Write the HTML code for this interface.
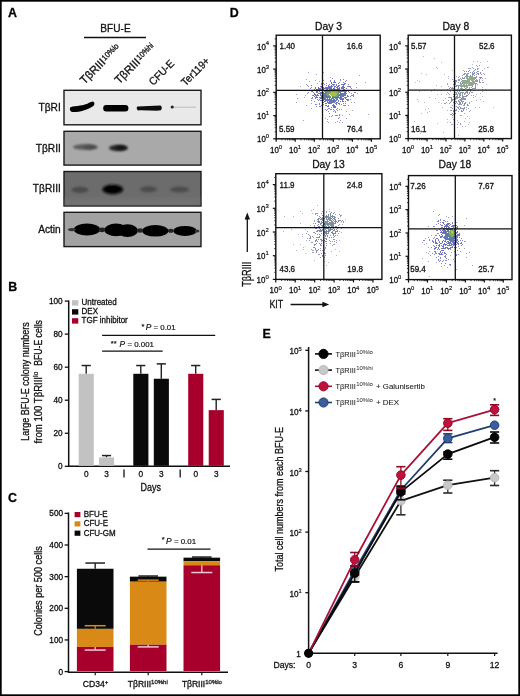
<!DOCTYPE html>
<html><head><meta charset="utf-8"><style>
html,body{margin:0;padding:0;background:#fff;}
svg{display:block;}
text{font-family:"Liberation Sans",sans-serif;stroke:#111;stroke-width:0.3px;}
svg{will-change:transform;}
</style></head><body>
<svg width="520" height="696" viewBox="0 0 520 696" font-family="Liberation Sans, sans-serif">
<rect width="520" height="696" fill="#fff"/>
<rect x="0.85" y="0.85" width="518.3" height="694.3" fill="none" stroke="#000" stroke-width="1.7"/>
<text x="8.1" y="16.8" font-size="12.4" text-anchor="start" font-weight="bold" fill="#000" >A</text>
<text x="8.3" y="290.9" font-size="12.4" text-anchor="start" font-weight="bold" fill="#000" >B</text>
<text x="8.0" y="501.6" font-size="12.4" text-anchor="start" font-weight="bold" fill="#000" >C</text>
<text x="229.8" y="16.8" font-size="12.4" text-anchor="start" font-weight="bold" fill="#000" >D</text>
<text x="262.5" y="337.5" font-size="12.4" text-anchor="start" font-weight="bold" fill="#000" >E</text>
<text x="115.5" y="31.7" font-size="10.1" text-anchor="middle" font-weight="normal" fill="#111" >BFU-E</text>
<line x1="84" y1="37.5" x2="146" y2="37.5" stroke="#111" stroke-width="1.5" />
<text transform="translate(84.6,84.8) rotate(-45)" font-size="11.4" fill="#111" textLength="30.60" lengthAdjust="spacingAndGlyphs">TβRIII</text>
<text transform="translate(84.6,84.8) rotate(-45)" x="31.20" y="-2.6" font-size="8.0" fill="#111" textLength="20.40" lengthAdjust="spacingAndGlyphs">10%lo</text>
<text transform="translate(119.3,84.5) rotate(-45)" font-size="11.4" fill="#111" textLength="30.60" lengthAdjust="spacingAndGlyphs">TβRIII</text>
<text transform="translate(119.3,84.5) rotate(-45)" x="31.20" y="-2.6" font-size="8.0" fill="#111" textLength="20.40" lengthAdjust="spacingAndGlyphs">10%hi</text>
<text transform="translate(153.3,86.0) rotate(-45)" font-size="10.8" fill="#111" textLength="30.60" lengthAdjust="spacingAndGlyphs">CFU-E</text>
<text transform="translate(185.6,86.4) rotate(-45)" font-size="10.8" fill="#111" textLength="35.00" lengthAdjust="spacingAndGlyphs">Ter119+</text>
<defs><filter id="bl" x="-50%" y="-50%" width="200%" height="200%"><feGaussianBlur stdDeviation="1.2"/></filter><filter id="bl2" x="-50%" y="-50%" width="200%" height="200%"><feGaussianBlur stdDeviation="2"/></filter><filter id="bl05" x="-50%" y="-50%" width="200%" height="200%"><feGaussianBlur stdDeviation="0.6"/></filter><filter id="bl07" x="-20%" y="-50%" width="140%" height="200%"><feGaussianBlur stdDeviation="0.75"/></filter><clipPath id="c1"><rect x="64" y="90.3" width="137" height="34.5"/></clipPath><clipPath id="c2"><rect x="64" y="131.3" width="137" height="33.8"/></clipPath><clipPath id="c3"><rect x="64" y="171.5" width="137" height="34.5"/></clipPath><clipPath id="c4"><rect x="64" y="212.3" width="137" height="34.7"/></clipPath></defs>
<rect x="64" y="90.3" width="137" height="34.5" fill="#e9e9e9" stroke="#1a1a1a" stroke-width="1.4"/>
<text x="60.8" y="111.25" font-size="10.2" text-anchor="end" font-weight="normal" fill="#111" >TβRI</text>
<rect x="64" y="131.3" width="137" height="33.79999999999998" fill="#a9a9a9" stroke="#1a1a1a" stroke-width="1.4"/>
<text x="60.8" y="151.89999999999998" font-size="10.2" text-anchor="end" font-weight="normal" fill="#111" >TβRII</text>
<rect x="64" y="171.5" width="137" height="34.5" fill="#6c6c6c" stroke="#1a1a1a" stroke-width="1.4"/>
<text x="60.8" y="192.45" font-size="10.2" text-anchor="end" font-weight="normal" fill="#111" >TβRIII</text>
<rect x="64" y="212.3" width="137" height="34.29999999999998" fill="#a2a2a2" stroke="#1a1a1a" stroke-width="1.4"/>
<text x="60.8" y="233.14999999999998" font-size="10.2" text-anchor="end" font-weight="normal" fill="#111" >Actin</text>
<g clip-path="url(#c1)"><g filter="url(#bl07)">
<path d="M70.5,107.2 C76,105.6 84,106.3 89.5,102.6 L92.5,101.4 C95.2,101.8 95,105.2 92.5,106.4 C87,109.6 80,112.2 72.5,112.0 C69.6,111.6 69.4,108.2 70.5,107.2 Z" fill="#060606"/>
<rect x="103.2" y="105.0" width="25.2" height="6.4" rx="3" fill="#060606"/>
<path d="M137.4,106.6 C145,106.0 153,106.2 160,105.6 C162.4,105.8 162.4,110.2 160,110.6 C153,110.8 145,110.2 138,110.4 C136.4,109.6 136.4,107.2 137.4,106.6 Z" fill="#101010"/>
<circle cx="172.2" cy="107.0" r="1.6" fill="#222"/>
<rect x="174" y="106.6" width="22" height="1.2" fill="#c4c4c4"/>
</g></g>
<ellipse cx="85.5" cy="147.0" rx="12.5" ry="3.0" fill="#555" opacity="0.9" filter="url(#bl)" clip-path="url(#c2)" transform="rotate(0 85.5 147.0)"/>
<ellipse cx="90" cy="147.2" rx="6" ry="2.2" fill="#444" opacity="0.7" filter="url(#bl)" clip-path="url(#c2)" transform="rotate(0 90 147.2)"/>
<ellipse cx="118.5" cy="148" rx="9.5" ry="3.2" fill="#222" opacity="0.95" filter="url(#bl)" clip-path="url(#c2)" transform="rotate(0 118.5 148)"/>
<ellipse cx="121" cy="147.6" rx="5" ry="2.2" fill="#111" opacity="0.8" filter="url(#bl)" clip-path="url(#c2)" transform="rotate(0 121 147.6)"/>
<rect x="64" y="198" width="137" height="8" fill="#7a7a7a" opacity="0.5" filter="url(#bl2)" clip-path="url(#c3)"/>
<ellipse cx="80" cy="189.8" rx="8.5" ry="3.0" fill="#474747" opacity="0.9" filter="url(#bl)" clip-path="url(#c3)" transform="rotate(0 80 189.8)"/>
<ellipse cx="112.8" cy="189.4" rx="10.5" ry="5.0" fill="#111" opacity="1" filter="url(#bl)" clip-path="url(#c3)" transform="rotate(0 112.8 189.4)"/>
<ellipse cx="112.5" cy="189.2" rx="7.5" ry="3.2" fill="#000" opacity="1" filter="url(#bl05)" clip-path="url(#c3)" transform="rotate(0 112.5 189.2)"/>
<ellipse cx="148.5" cy="189.3" rx="8.5" ry="3.0" fill="#4a4a4a" opacity="0.9" filter="url(#bl)" clip-path="url(#c3)" transform="rotate(0 148.5 189.3)"/>
<ellipse cx="179.5" cy="189.5" rx="9.5" ry="3.0" fill="#4a4a4a" opacity="0.9" filter="url(#bl)" clip-path="url(#c3)" transform="rotate(0 179.5 189.5)"/>
<g clip-path="url(#c4)"><g filter="url(#bl07)">
<ellipse cx="87.0" cy="229.4" rx="13.2" ry="6.0" fill="#000"/>
<ellipse cx="116.0" cy="229.9" rx="11.5" ry="6.3" fill="#000"/>
<ellipse cx="127.5" cy="230.6" rx="10.5" ry="6.3" fill="#000"/>
<ellipse cx="155.3" cy="230.8" rx="13.2" ry="5.8" fill="#000"/>
<ellipse cx="185.0" cy="230.9" rx="11.6" ry="5.0" fill="#000"/>
<ellipse cx="72" cy="229.6" rx="4" ry="1.6" fill="#333"/>
<ellipse cx="102.0" cy="229.8" rx="3.5" ry="2.4" fill="#222"/>
<ellipse cx="140.0" cy="230.5" rx="3" ry="2.2" fill="#222"/>
<ellipse cx="170.8" cy="230.8" rx="3" ry="2.0" fill="#222"/>
<ellipse cx="197" cy="231" rx="2.5" ry="1.5" fill="#333"/>
</g></g>
<line x1="68.7" y1="300.5" x2="68.7" y2="466.3" stroke="#111" stroke-width="1.5" />
<line x1="68.0" y1="466.3" x2="230" y2="466.3" stroke="#111" stroke-width="1.5" />
<line x1="64.8" y1="466.3" x2="68.7" y2="466.3" stroke="#111" stroke-width="1.3" />
<text x="62.6" y="469.2" font-size="8.2" text-anchor="end" font-weight="normal" fill="#111" >0</text>
<line x1="64.8" y1="433.26" x2="68.7" y2="433.26" stroke="#111" stroke-width="1.3" />
<text x="62.6" y="436.15999999999997" font-size="8.2" text-anchor="end" font-weight="normal" fill="#111" >20</text>
<line x1="64.8" y1="400.22" x2="68.7" y2="400.22" stroke="#111" stroke-width="1.3" />
<text x="62.6" y="403.12" font-size="8.2" text-anchor="end" font-weight="normal" fill="#111" >40</text>
<line x1="64.8" y1="367.18" x2="68.7" y2="367.18" stroke="#111" stroke-width="1.3" />
<text x="62.6" y="370.08" font-size="8.2" text-anchor="end" font-weight="normal" fill="#111" >60</text>
<line x1="64.8" y1="334.14" x2="68.7" y2="334.14" stroke="#111" stroke-width="1.3" />
<text x="62.6" y="337.03999999999996" font-size="8.2" text-anchor="end" font-weight="normal" fill="#111" >80</text>
<line x1="64.8" y1="301.1" x2="68.7" y2="301.1" stroke="#111" stroke-width="1.3" />
<text x="62.6" y="304.0" font-size="8.2" text-anchor="end" font-weight="normal" fill="#111" >100</text>
<rect x="72" y="300.2" width="6.3" height="5.4" fill="#c2c2c2" />
<text x="81.6" y="305.1" font-size="8.5" text-anchor="start" fill="#111" textLength="35.09" lengthAdjust="spacingAndGlyphs">Untreated</text>
<rect x="72" y="309.2" width="6.3" height="5.4" fill="#0a0a0a" />
<text x="81.6" y="314.15000000000003" font-size="8.5" text-anchor="start" fill="#111" textLength="16.43" lengthAdjust="spacingAndGlyphs">DEX</text>
<rect x="72" y="318.2" width="6.3" height="5.4" fill="#a8002c" />
<text x="81.6" y="323.20000000000005" font-size="8.5" text-anchor="start" fill="#111" textLength="46.17" lengthAdjust="spacingAndGlyphs">TGF inhibitor</text>
<line x1="86.2" y1="373.788" x2="86.2" y2="365.528" stroke="#222" stroke-width="1.4" />
<line x1="81.60000000000001" y1="365.528" x2="90.8" y2="365.528" stroke="#222" stroke-width="1.5" />
<rect x="78.7" y="373.788" width="15.1" height="92.012" fill="#c2c2c2" />
<line x1="106.5" y1="457.3792" x2="106.5" y2="455.562" stroke="#222" stroke-width="1.4" />
<line x1="101.9" y1="455.562" x2="111.1" y2="455.562" stroke="#222" stroke-width="1.5" />
<rect x="99.0" y="457.3792" width="15.1" height="8.420799999999986" fill="#c2c2c2" />
<line x1="140.8" y1="373.788" x2="140.8" y2="365.528" stroke="#222" stroke-width="1.4" />
<line x1="136.20000000000002" y1="365.528" x2="145.4" y2="365.528" stroke="#222" stroke-width="1.5" />
<rect x="133.3" y="373.788" width="15.1" height="92.012" fill="#0a0a0a" />
<line x1="161.3" y1="378.744" x2="161.3" y2="363.87600000000003" stroke="#222" stroke-width="1.4" />
<line x1="156.70000000000002" y1="363.87600000000003" x2="165.9" y2="363.87600000000003" stroke="#222" stroke-width="1.5" />
<rect x="153.8" y="378.744" width="15.1" height="87.05599999999998" fill="#0a0a0a" />
<line x1="195.7" y1="373.788" x2="195.7" y2="365.528" stroke="#222" stroke-width="1.4" />
<line x1="191.1" y1="365.528" x2="200.29999999999998" y2="365.528" stroke="#222" stroke-width="1.5" />
<rect x="188.2" y="373.788" width="15.1" height="92.012" fill="#a8002c" />
<line x1="216.2" y1="410.132" x2="216.2" y2="399.394" stroke="#222" stroke-width="1.4" />
<line x1="211.6" y1="399.394" x2="220.79999999999998" y2="399.394" stroke="#222" stroke-width="1.5" />
<rect x="208.7" y="410.132" width="15.1" height="55.668000000000006" fill="#a8002c" />
<text x="86.2" y="476.8" font-size="8.7" text-anchor="middle" fill="#111" textLength="4.60" lengthAdjust="spacingAndGlyphs">0</text>
<text x="106.6" y="476.8" font-size="8.7" text-anchor="middle" fill="#111" textLength="4.60" lengthAdjust="spacingAndGlyphs">3</text>
<text x="140.9" y="476.8" font-size="8.7" text-anchor="middle" fill="#111" textLength="4.60" lengthAdjust="spacingAndGlyphs">0</text>
<text x="161.4" y="476.8" font-size="8.7" text-anchor="middle" fill="#111" textLength="4.60" lengthAdjust="spacingAndGlyphs">3</text>
<text x="195.7" y="476.8" font-size="8.7" text-anchor="middle" fill="#111" textLength="4.60" lengthAdjust="spacingAndGlyphs">0</text>
<text x="216.2" y="476.8" font-size="8.7" text-anchor="middle" fill="#111" textLength="4.60" lengthAdjust="spacingAndGlyphs">3</text>
<line x1="124.0" y1="469.6" x2="124.0" y2="477.4" stroke="#111" stroke-width="1.3" />
<line x1="180.2" y1="469.6" x2="180.2" y2="477.4" stroke="#111" stroke-width="1.3" />
<text x="150.7" y="490.7" font-size="10.4" text-anchor="middle" fill="#111" textLength="20.5" lengthAdjust="spacingAndGlyphs">Days</text>
<line x1="102.1" y1="335.3" x2="215.2" y2="335.3" stroke="#111" stroke-width="1.3" />
<line x1="102.1" y1="351.2" x2="162.7" y2="351.2" stroke="#111" stroke-width="1.3" />
<text x="141.5" y="329.0" font-size="7.4" text-anchor="start" font-weight="normal" fill="#111"  style="stroke-width:0.18px">*</text>
<text x="145.7" y="330.3" font-size="7.9" text-anchor="start" font-weight="normal" fill="#111"  style="stroke-width:0.18px"><tspan font-style="italic" font-size="8.4">P</tspan> = 0.01</text>
<text x="110.8" y="345.8" font-size="7.4" text-anchor="start" font-weight="normal" fill="#111"  style="stroke-width:0.18px">**</text>
<text x="119.6" y="347.0" font-size="7.9" text-anchor="start" font-weight="normal" fill="#111"  style="stroke-width:0.18px"><tspan font-style="italic" font-size="8.4">P</tspan> = 0.001</text>
<text transform="translate(29.1,381.5) rotate(-90)" font-size="10.5" text-anchor="middle" fill="#111" textLength="118.3" lengthAdjust="spacingAndGlyphs">Large BFU-E colony numbers</text>
<text transform="translate(41.6,410.2) rotate(-90)" font-size="10.5" text-anchor="middle" fill="#111" textLength="66.4" lengthAdjust="spacingAndGlyphs">from 100 TβRIII</text>
<text transform="translate(37.9,377.0) rotate(-90)" font-size="6.6" fill="#111" textLength="5.4" lengthAdjust="spacingAndGlyphs" style="stroke-width:0.18px">lo</text>
<text transform="translate(41.6,342.9) rotate(-90)" font-size="10.5" text-anchor="middle" fill="#111" textLength="45.6" lengthAdjust="spacingAndGlyphs">BFU-E cells</text>
<line x1="68.5" y1="512.5" x2="68.5" y2="672.3" stroke="#111" stroke-width="1.5" />
<line x1="67.8" y1="672.3" x2="228" y2="672.3" stroke="#111" stroke-width="1.5" />
<line x1="64.6" y1="671.6" x2="68.5" y2="671.6" stroke="#111" stroke-width="1.3" />
<text x="63.0" y="674.5" font-size="8.2" text-anchor="end" font-weight="normal" fill="#111" >0</text>
<line x1="64.6" y1="639.95" x2="68.5" y2="639.95" stroke="#111" stroke-width="1.3" />
<text x="63.0" y="642.85" font-size="8.2" text-anchor="end" font-weight="normal" fill="#111" >100</text>
<line x1="64.6" y1="608.3000000000001" x2="68.5" y2="608.3000000000001" stroke="#111" stroke-width="1.3" />
<text x="63.0" y="611.2" font-size="8.2" text-anchor="end" font-weight="normal" fill="#111" >200</text>
<line x1="64.6" y1="576.65" x2="68.5" y2="576.65" stroke="#111" stroke-width="1.3" />
<text x="63.0" y="579.55" font-size="8.2" text-anchor="end" font-weight="normal" fill="#111" >300</text>
<line x1="64.6" y1="545.0" x2="68.5" y2="545.0" stroke="#111" stroke-width="1.3" />
<text x="63.0" y="547.9" font-size="8.2" text-anchor="end" font-weight="normal" fill="#111" >400</text>
<line x1="64.6" y1="513.35" x2="68.5" y2="513.35" stroke="#111" stroke-width="1.3" />
<text x="63.0" y="516.25" font-size="8.2" text-anchor="end" font-weight="normal" fill="#111" >500</text>
<rect x="74.6" y="512.0" width="5.8" height="5.2" fill="#a8002c" />
<text x="83.7" y="517.0" font-size="8.5" text-anchor="start" fill="#111" textLength="23.97" lengthAdjust="spacingAndGlyphs">BFU-E</text>
<rect x="74.6" y="521.3" width="5.8" height="5.2" fill="#d98a16" />
<text x="83.7" y="526.3" font-size="8.5" text-anchor="start" fill="#111" textLength="24.41" lengthAdjust="spacingAndGlyphs">CFU-E</text>
<rect x="74.6" y="530.6" width="5.8" height="5.2" fill="#0a0a0a" />
<text x="83.7" y="535.6" font-size="8.5" text-anchor="start" fill="#111" textLength="31.95" lengthAdjust="spacingAndGlyphs">CFU-GM</text>
<line x1="95.2" y1="568.7375000000001" x2="95.2" y2="563.0405000000001" stroke="#222" stroke-width="1.4" />
<line x1="85.4" y1="563.0405000000001" x2="105.0" y2="563.0405000000001" stroke="#222" stroke-width="1.5" />
<rect x="76.9" y="568.7375000000001" width="36.6" height="60.13499999999999" fill="#0a0a0a" />
<rect x="76.9" y="628.8725000000001" width="36.6" height="18.040499999999952" fill="#d98a16" />
<rect x="76.9" y="646.913" width="36.6" height="24.08700000000001" fill="#a8002c" />
<line x1="95.2" y1="628.8725000000001" x2="95.2" y2="625.7075" stroke="#d98a16" stroke-width="1.3" />
<line x1="84.7" y1="625.7075" x2="105.7" y2="625.7075" stroke="#d98a16" stroke-width="1.5" />
<line x1="95.2" y1="646.913" x2="95.2" y2="650.078" stroke="#f0c8d0" stroke-width="1.3" />
<line x1="84.7" y1="650.078" x2="105.7" y2="650.078" stroke="#f0c8d0" stroke-width="1.5" />
<line x1="95.2" y1="672.3" x2="95.2" y2="675.2" stroke="#111" stroke-width="1.2" />
<line x1="148.20000000000002" y1="576.65" x2="148.20000000000002" y2="576.017" stroke="#222" stroke-width="1.4" />
<line x1="138.4" y1="576.017" x2="158.00000000000003" y2="576.017" stroke="#222" stroke-width="1.5" />
<rect x="129.9" y="576.65" width="36.6" height="5.064000000000078" fill="#0a0a0a" />
<rect x="129.9" y="581.714" width="36.6" height="62.983499999999935" fill="#d98a16" />
<rect x="129.9" y="644.6975" width="36.6" height="26.30250000000003" fill="#a8002c" />
<line x1="148.20000000000002" y1="581.714" x2="148.20000000000002" y2="580.1315" stroke="#d98a16" stroke-width="1.3" />
<line x1="137.70000000000002" y1="580.1315" x2="158.70000000000002" y2="580.1315" stroke="#d98a16" stroke-width="1.5" />
<line x1="148.20000000000002" y1="644.6975" x2="148.20000000000002" y2="646.913" stroke="#f0c8d0" stroke-width="1.3" />
<line x1="137.70000000000002" y1="646.913" x2="158.70000000000002" y2="646.913" stroke="#f0c8d0" stroke-width="1.5" />
<line x1="148.20000000000002" y1="672.3" x2="148.20000000000002" y2="675.2" stroke="#111" stroke-width="1.2" />
<line x1="201.8" y1="557.6600000000001" x2="201.8" y2="557.027" stroke="#222" stroke-width="1.4" />
<line x1="192.0" y1="557.027" x2="211.60000000000002" y2="557.027" stroke="#222" stroke-width="1.5" />
<rect x="183.5" y="557.6600000000001" width="36.6" height="3.4814999999999827" fill="#0a0a0a" />
<rect x="183.5" y="561.1415000000001" width="36.6" height="4.114500000000021" fill="#d98a16" />
<rect x="183.5" y="565.2560000000001" width="36.6" height="105.74399999999994" fill="#a8002c" />
<line x1="201.8" y1="565.2560000000001" x2="201.8" y2="572.5355000000001" stroke="#f0c8d0" stroke-width="1.3" />
<line x1="191.3" y1="572.5355000000001" x2="212.3" y2="572.5355000000001" stroke="#f0c8d0" stroke-width="1.5" />
<line x1="201.8" y1="672.3" x2="201.8" y2="675.2" stroke="#111" stroke-width="1.2" />
<text x="95.5" y="686.6" font-size="8.6" text-anchor="middle" font-weight="normal" fill="#111" >CD34<tspan dy="-2.6" font-size="6">+</tspan></text>
<text x="147.8" y="687.0" font-size="8.5" text-anchor="middle" font-weight="normal" fill="#111" >TβRIII<tspan dy="-3.4" font-size="6.0" fill="#333">10%hi</tspan></text>
<text x="201.9" y="687.0" font-size="8.5" text-anchor="middle" font-weight="normal" fill="#111" >TβRIII<tspan dy="-3.4" font-size="6.0" fill="#333">10%lo</tspan></text>
<line x1="147.5" y1="549.2" x2="210.5" y2="549.2" stroke="#111" stroke-width="1.3" />
<text x="161.8" y="542.2" font-size="7.4" text-anchor="start" font-weight="normal" fill="#111"  style="stroke-width:0.18px">*</text>
<text x="166.1" y="543.6" font-size="7.9" text-anchor="start" font-weight="normal" fill="#111"  style="stroke-width:0.18px"><tspan font-style="italic" font-size="8.4">P</tspan> = 0.01</text>
<text transform="translate(41.8,591) rotate(-90)" font-size="10.3" text-anchor="middle" fill="#111" textLength="89.6" lengthAdjust="spacingAndGlyphs">Colonies per 500 cells</text>
<defs><filter id="bl03" x="-10%" y="-10%" width="120%" height="120%"><feGaussianBlur stdDeviation="0.35"/></filter></defs>
<g filter="url(#bl03)">
<path d="M308 72h1v1h-1zM323 72h1v1h-1zM316 74h1v1h-1zM359 75h1v1h-1zM330 77h1v1h-1zM306 79h1v1h-1zM322 79h1v1h-1zM315 80h1v1h-1zM309 81h1v1h-1zM319 81h1v1h-1zM365 82h1v1h-1zM317 83h1v1h-1zM356 83h1v1h-1zM306 84h1v1h-1zM300 86h1v1h-1zM356 87h1v1h-1zM301 90h1v1h-1zM361 90h1v1h-1zM357 93h1v1h-1zM296 94h1v1h-1zM305 95h1v1h-1zM304 97h1v1h-1zM297 98h1v1h-1zM296 102h1v1h-1zM351 102h1v1h-1zM354 102h1v1h-1zM311 103h1v1h-1zM306 105h1v1h-1zM348 105h1v1h-1zM311 108h1v1h-1zM341 109h1v1h-1zM352 110h1v1h-1zM346 111h1v1h-1zM349 114h1v1h-1zM368 114h1v1h-1zM342 115h1v1h-1zM325 118h1v1h-1zM346 118h1v1h-1zM327 119h1v1h-1zM303 120h1v1h-1zM327 121h1v1h-1zM337 121h1v1h-1zM328 122h1v1h-1zM335 122h1v1h-1zM339 122h1v1h-1zM342 122h1v1h-1z" fill="#a0a0d4"/>
<path d="M332 78h1v1h-1zM340 79h1v1h-1zM343 79h1v1h-1zM323 80h1v1h-1zM330 80h1v1h-1zM334 80h1v1h-1zM340 80h1v1h-1zM346 80h1v1h-1zM330 81h1v1h-1zM334 81h1v1h-1zM345 81h1v1h-1zM339 82h1v1h-1zM343 82h1v1h-1zM321 83h1v1h-1zM323 83h1v1h-1zM326 83h1v1h-1zM345 83h1v1h-1zM321 84h1v1h-1zM324 84h1v1h-1zM348 84h1v1h-1zM307 85h1v1h-1zM311 85h1v1h-1zM308 86h1v1h-1zM347 86h1v1h-1zM348 86h1v1h-1zM349 86h1v1h-1zM350 86h1v1h-1zM311 87h1v1h-1zM350 87h1v1h-1zM310 88h1v1h-1zM351 88h1v1h-1zM310 90h1v1h-1zM349 90h1v1h-1zM311 91h1v1h-1zM308 92h1v1h-1zM349 92h1v1h-1zM354 92h1v1h-1zM355 92h1v1h-1zM307 93h1v1h-1zM351 93h1v1h-1zM353 94h1v1h-1zM312 95h1v1h-1zM351 95h1v1h-1zM352 95h1v1h-1zM353 95h1v1h-1zM350 96h1v1h-1zM353 96h1v1h-1zM312 97h1v1h-1zM311 98h1v1h-1zM312 98h1v1h-1zM315 98h1v1h-1zM317 99h1v1h-1zM350 99h1v1h-1zM311 100h1v1h-1zM318 100h1v1h-1zM348 100h1v1h-1zM314 101h1v1h-1zM319 103h1v1h-1zM343 103h1v1h-1zM345 103h1v1h-1zM315 104h1v1h-1zM316 104h1v1h-1zM319 104h1v1h-1zM323 104h1v1h-1zM339 104h1v1h-1zM341 104h1v1h-1zM321 105h1v1h-1zM343 105h1v1h-1zM344 105h1v1h-1zM345 105h1v1h-1zM316 106h1v1h-1zM319 106h1v1h-1zM320 106h1v1h-1zM331 107h1v1h-1zM328 108h1v1h-1zM329 108h1v1h-1zM337 108h1v1h-1zM325 109h1v1h-1zM327 109h1v1h-1zM330 109h1v1h-1zM331 109h1v1h-1zM333 109h1v1h-1zM336 109h1v1h-1zM339 109h1v1h-1zM326 110h1v1h-1zM334 110h1v1h-1zM337 110h1v1h-1zM328 111h1v1h-1zM333 111h1v1h-1zM335 111h1v1h-1zM335 112h1v1h-1zM329 113h1v1h-1zM339 114h1v1h-1zM332 115h1v1h-1zM335 115h1v1h-1zM336 115h1v1h-1zM337 115h1v1h-1zM339 115h1v1h-1zM329 116h1v1h-1zM331 116h1v1h-1zM339 117h1v1h-1zM338 118h1v1h-1zM340 120h1v1h-1z" fill="#8484c8"/>
<path d="M331 82h1v1h-1zM333 82h1v1h-1zM334 82h1v1h-1zM335 82h1v1h-1zM331 83h1v1h-1zM338 83h1v1h-1zM344 83h1v1h-1zM329 84h1v1h-1zM332 84h1v1h-1zM333 84h1v1h-1zM334 84h1v1h-1zM336 84h1v1h-1zM341 84h1v1h-1zM342 84h1v1h-1zM343 84h1v1h-1zM344 84h1v1h-1zM326 85h1v1h-1zM328 85h1v1h-1zM331 85h1v1h-1zM333 85h1v1h-1zM336 85h1v1h-1zM338 85h1v1h-1zM339 85h1v1h-1zM343 85h1v1h-1zM320 86h1v1h-1zM321 86h1v1h-1zM328 86h1v1h-1zM329 86h1v1h-1zM330 86h1v1h-1zM331 86h1v1h-1zM332 86h1v1h-1zM334 86h1v1h-1zM335 86h1v1h-1zM337 86h1v1h-1zM338 86h1v1h-1zM342 86h1v1h-1zM343 86h1v1h-1zM315 87h1v1h-1zM318 87h1v1h-1zM321 87h1v1h-1zM322 87h1v1h-1zM323 87h1v1h-1zM325 87h1v1h-1zM326 87h1v1h-1zM327 87h1v1h-1zM328 87h1v1h-1zM329 87h1v1h-1zM330 87h1v1h-1zM331 87h1v1h-1zM334 87h1v1h-1zM336 87h1v1h-1zM337 87h1v1h-1zM339 87h1v1h-1zM341 87h1v1h-1zM342 87h1v1h-1zM343 87h1v1h-1zM344 87h1v1h-1zM315 88h1v1h-1zM318 88h1v1h-1zM319 88h1v1h-1zM320 88h1v1h-1zM323 88h1v1h-1zM324 88h1v1h-1zM325 88h1v1h-1zM326 88h1v1h-1zM327 88h1v1h-1zM328 88h1v1h-1zM329 88h1v1h-1zM337 88h1v1h-1zM338 88h1v1h-1zM339 88h1v1h-1zM341 88h1v1h-1zM342 88h1v1h-1zM343 88h1v1h-1zM346 88h1v1h-1zM314 89h1v1h-1zM316 89h1v1h-1zM317 89h1v1h-1zM318 89h1v1h-1zM319 89h1v1h-1zM320 89h1v1h-1zM321 89h1v1h-1zM322 89h1v1h-1zM323 89h1v1h-1zM326 89h1v1h-1zM339 89h1v1h-1zM343 89h1v1h-1zM344 89h1v1h-1zM313 90h1v1h-1zM314 90h1v1h-1zM315 90h1v1h-1zM318 90h1v1h-1zM319 90h1v1h-1zM320 90h1v1h-1zM321 90h1v1h-1zM322 90h1v1h-1zM323 90h1v1h-1zM324 90h1v1h-1zM342 90h1v1h-1zM344 90h1v1h-1zM345 90h1v1h-1zM346 90h1v1h-1zM347 90h1v1h-1zM312 91h1v1h-1zM316 91h1v1h-1zM317 91h1v1h-1zM319 91h1v1h-1zM322 91h1v1h-1zM341 91h1v1h-1zM342 91h1v1h-1zM343 91h1v1h-1zM344 91h1v1h-1zM345 91h1v1h-1zM346 91h1v1h-1zM348 91h1v1h-1zM313 92h1v1h-1zM316 92h1v1h-1zM317 92h1v1h-1zM320 92h1v1h-1zM321 92h1v1h-1zM322 92h1v1h-1zM344 92h1v1h-1zM345 92h1v1h-1zM314 93h1v1h-1zM318 93h1v1h-1zM319 93h1v1h-1zM320 93h1v1h-1zM321 93h1v1h-1zM343 93h1v1h-1zM344 93h1v1h-1zM345 93h1v1h-1zM346 93h1v1h-1zM314 94h1v1h-1zM315 94h1v1h-1zM317 94h1v1h-1zM320 94h1v1h-1zM343 94h1v1h-1zM344 94h1v1h-1zM345 94h1v1h-1zM313 95h1v1h-1zM315 95h1v1h-1zM316 95h1v1h-1zM317 95h1v1h-1zM318 95h1v1h-1zM320 95h1v1h-1zM321 95h1v1h-1zM343 95h1v1h-1zM344 95h1v1h-1zM345 95h1v1h-1zM347 95h1v1h-1zM314 96h1v1h-1zM316 96h1v1h-1zM321 96h1v1h-1zM342 96h1v1h-1zM343 96h1v1h-1zM347 96h1v1h-1zM348 96h1v1h-1zM315 97h1v1h-1zM316 97h1v1h-1zM317 97h1v1h-1zM319 97h1v1h-1zM320 97h1v1h-1zM321 97h1v1h-1zM341 97h1v1h-1zM344 97h1v1h-1zM345 97h1v1h-1zM346 97h1v1h-1zM320 98h1v1h-1zM321 98h1v1h-1zM322 98h1v1h-1zM323 98h1v1h-1zM339 98h1v1h-1zM340 98h1v1h-1zM341 98h1v1h-1zM342 98h1v1h-1zM343 98h1v1h-1zM345 98h1v1h-1zM319 99h1v1h-1zM323 99h1v1h-1zM324 99h1v1h-1zM325 99h1v1h-1zM326 99h1v1h-1zM327 99h1v1h-1zM328 99h1v1h-1zM336 99h1v1h-1zM337 99h1v1h-1zM340 99h1v1h-1zM341 99h1v1h-1zM342 99h1v1h-1zM343 99h1v1h-1zM346 99h1v1h-1zM347 99h1v1h-1zM348 99h1v1h-1zM320 100h1v1h-1zM321 100h1v1h-1zM322 100h1v1h-1zM323 100h1v1h-1zM325 100h1v1h-1zM326 100h1v1h-1zM327 100h1v1h-1zM328 100h1v1h-1zM329 100h1v1h-1zM334 100h1v1h-1zM335 100h1v1h-1zM336 100h1v1h-1zM338 100h1v1h-1zM342 100h1v1h-1zM347 100h1v1h-1zM324 101h1v1h-1zM325 101h1v1h-1zM327 101h1v1h-1zM329 101h1v1h-1zM330 101h1v1h-1zM332 101h1v1h-1zM333 101h1v1h-1zM334 101h1v1h-1zM335 101h1v1h-1zM338 101h1v1h-1zM340 101h1v1h-1zM342 101h1v1h-1zM343 101h1v1h-1zM345 101h1v1h-1zM322 102h1v1h-1zM323 102h1v1h-1zM327 102h1v1h-1zM328 102h1v1h-1zM329 102h1v1h-1zM330 102h1v1h-1zM331 102h1v1h-1zM332 102h1v1h-1zM333 102h1v1h-1zM334 102h1v1h-1zM336 102h1v1h-1zM337 102h1v1h-1zM322 103h1v1h-1zM325 103h1v1h-1zM326 103h1v1h-1zM328 103h1v1h-1zM329 103h1v1h-1zM330 103h1v1h-1zM331 103h1v1h-1zM335 103h1v1h-1zM336 103h1v1h-1zM338 103h1v1h-1zM339 103h1v1h-1zM333 104h1v1h-1zM336 104h1v1h-1zM325 105h1v1h-1zM326 105h1v1h-1zM328 105h1v1h-1zM332 105h1v1h-1zM333 105h1v1h-1zM334 105h1v1h-1zM327 106h1v1h-1zM328 106h1v1h-1zM333 106h1v1h-1zM334 106h1v1h-1zM335 106h1v1h-1zM333 107h1v1h-1zM334 107h1v1h-1zM335 107h1v1h-1z" fill="#6e72b8"/>
<path d="M330 88h1v1h-1zM331 88h1v1h-1zM333 88h1v1h-1zM334 88h1v1h-1zM327 89h1v1h-1zM329 89h1v1h-1zM330 89h1v1h-1zM331 89h1v1h-1zM332 89h1v1h-1zM333 89h1v1h-1zM334 89h1v1h-1zM335 89h1v1h-1zM336 89h1v1h-1zM337 89h1v1h-1zM338 89h1v1h-1zM325 90h1v1h-1zM326 90h1v1h-1zM328 90h1v1h-1zM329 90h1v1h-1zM330 90h1v1h-1zM332 90h1v1h-1zM335 90h1v1h-1zM337 90h1v1h-1zM338 90h1v1h-1zM339 90h1v1h-1zM324 91h1v1h-1zM325 91h1v1h-1zM326 91h1v1h-1zM327 91h1v1h-1zM328 91h1v1h-1zM329 91h1v1h-1zM338 91h1v1h-1zM339 91h1v1h-1zM340 91h1v1h-1zM323 92h1v1h-1zM325 92h1v1h-1zM326 92h1v1h-1zM339 92h1v1h-1zM340 92h1v1h-1zM323 93h1v1h-1zM324 93h1v1h-1zM325 93h1v1h-1zM340 93h1v1h-1zM341 93h1v1h-1zM342 93h1v1h-1zM322 94h1v1h-1zM323 94h1v1h-1zM324 94h1v1h-1zM325 94h1v1h-1zM339 94h1v1h-1zM340 94h1v1h-1zM341 94h1v1h-1zM342 94h1v1h-1zM322 95h1v1h-1zM323 95h1v1h-1zM324 95h1v1h-1zM325 95h1v1h-1zM326 95h1v1h-1zM338 95h1v1h-1zM339 95h1v1h-1zM340 95h1v1h-1zM341 95h1v1h-1zM342 95h1v1h-1zM323 96h1v1h-1zM324 96h1v1h-1zM325 96h1v1h-1zM326 96h1v1h-1zM327 96h1v1h-1zM328 96h1v1h-1zM329 96h1v1h-1zM337 96h1v1h-1zM338 96h1v1h-1zM340 96h1v1h-1zM341 96h1v1h-1zM323 97h1v1h-1zM324 97h1v1h-1zM325 97h1v1h-1zM326 97h1v1h-1zM327 97h1v1h-1zM328 97h1v1h-1zM329 97h1v1h-1zM330 97h1v1h-1zM332 97h1v1h-1zM333 97h1v1h-1zM334 97h1v1h-1zM335 97h1v1h-1zM336 97h1v1h-1zM337 97h1v1h-1zM338 97h1v1h-1zM339 97h1v1h-1zM340 97h1v1h-1zM324 98h1v1h-1zM325 98h1v1h-1zM327 98h1v1h-1zM329 98h1v1h-1zM331 98h1v1h-1zM332 98h1v1h-1zM333 98h1v1h-1zM335 98h1v1h-1zM336 98h1v1h-1zM337 98h1v1h-1zM329 99h1v1h-1zM330 99h1v1h-1zM331 99h1v1h-1zM333 99h1v1h-1zM334 99h1v1h-1zM330 100h1v1h-1zM331 100h1v1h-1zM332 100h1v1h-1zM333 100h1v1h-1zM331 101h1v1h-1z" fill="#5a7aa8"/>
<path d="M333 90h1v1h-1zM334 90h1v1h-1zM330 91h1v1h-1zM331 91h1v1h-1zM332 91h1v1h-1zM333 91h1v1h-1zM334 91h1v1h-1zM335 91h1v1h-1zM336 91h1v1h-1zM337 91h1v1h-1zM327 92h1v1h-1zM328 92h1v1h-1zM329 92h1v1h-1zM330 92h1v1h-1zM336 92h1v1h-1zM337 92h1v1h-1zM338 92h1v1h-1zM326 93h1v1h-1zM327 93h1v1h-1zM328 93h1v1h-1zM329 93h1v1h-1zM337 93h1v1h-1zM338 93h1v1h-1zM326 94h1v1h-1zM327 94h1v1h-1zM328 94h1v1h-1zM337 94h1v1h-1zM338 94h1v1h-1zM327 95h1v1h-1zM328 95h1v1h-1zM329 95h1v1h-1zM336 95h1v1h-1zM337 95h1v1h-1zM330 96h1v1h-1zM332 96h1v1h-1zM333 96h1v1h-1zM334 96h1v1h-1zM335 96h1v1h-1zM336 96h1v1h-1z" fill="#7aa070"/>
<path d="M331 92h1v1h-1zM332 92h1v1h-1zM333 92h1v1h-1zM334 92h1v1h-1zM335 92h1v1h-1zM330 93h1v1h-1zM331 93h1v1h-1zM332 93h1v1h-1zM333 93h1v1h-1zM334 93h1v1h-1zM335 93h1v1h-1zM336 93h1v1h-1zM330 94h1v1h-1zM331 94h1v1h-1zM332 94h1v1h-1zM333 94h1v1h-1zM334 94h1v1h-1zM335 94h1v1h-1zM336 94h1v1h-1zM331 95h1v1h-1zM332 95h1v1h-1zM333 95h1v1h-1zM334 95h1v1h-1zM335 95h1v1h-1z" fill="#a8c048"/>
</g>
<rect x="276.2" y="35.2" width="104.0" height="103.6" fill="none" stroke="#111" stroke-width="1.4"/>
<line x1="322.5" y1="35.2" x2="322.5" y2="138.8" stroke="#111" stroke-width="1.3" />
<line x1="276.2" y1="90.4" x2="380.2" y2="90.4" stroke="#111" stroke-width="1.3" />
<line x1="273.2" y1="138.8" x2="276.2" y2="138.8" stroke="#111" stroke-width="1.2" />
<text x="265.8" y="142.4" font-size="8.6" text-anchor="end" fill="#111" textLength="8.80" lengthAdjust="spacingAndGlyphs">10</text>
<text x="265.8" y="138.3" font-size="5.9" fill="#111" style="stroke-width:0.18px">0</text>
<line x1="274.59999999999997" y1="131.80746467471113" x2="276.2" y2="131.80746467471113" stroke="#111" stroke-width="0.8" />
<line x1="274.59999999999997" y1="127.71709372444911" x2="276.2" y2="127.71709372444911" stroke="#111" stroke-width="0.8" />
<line x1="274.59999999999997" y1="124.81492934942223" x2="276.2" y2="124.81492934942223" stroke="#111" stroke-width="0.8" />
<line x1="274.59999999999997" y1="122.56383577371939" x2="276.2" y2="122.56383577371939" stroke="#111" stroke-width="0.8" />
<line x1="274.59999999999997" y1="120.72455839916022" x2="276.2" y2="120.72455839916022" stroke="#111" stroke-width="0.8" />
<line x1="274.59999999999997" y1="119.16947153688858" x2="276.2" y2="119.16947153688858" stroke="#111" stroke-width="0.8" />
<line x1="274.59999999999997" y1="117.82239402413333" x2="276.2" y2="117.82239402413333" stroke="#111" stroke-width="0.8" />
<line x1="274.59999999999997" y1="116.6341874488982" x2="276.2" y2="116.6341874488982" stroke="#111" stroke-width="0.8" />
<line x1="273.2" y1="115.5713004484305" x2="276.2" y2="115.5713004484305" stroke="#111" stroke-width="1.2" />
<text x="265.8" y="119.2" font-size="8.6" text-anchor="end" fill="#111" textLength="8.80" lengthAdjust="spacingAndGlyphs">10</text>
<text x="265.8" y="115.1" font-size="5.9" fill="#111" style="stroke-width:0.18px">1</text>
<line x1="274.59999999999997" y1="108.57876512314161" x2="276.2" y2="108.57876512314161" stroke="#111" stroke-width="0.8" />
<line x1="274.59999999999997" y1="104.4883941728796" x2="276.2" y2="104.4883941728796" stroke="#111" stroke-width="0.8" />
<line x1="274.59999999999997" y1="101.58622979785272" x2="276.2" y2="101.58622979785272" stroke="#111" stroke-width="0.8" />
<line x1="274.59999999999997" y1="99.33513622214988" x2="276.2" y2="99.33513622214988" stroke="#111" stroke-width="0.8" />
<line x1="274.59999999999997" y1="97.49585884759071" x2="276.2" y2="97.49585884759071" stroke="#111" stroke-width="0.8" />
<line x1="274.59999999999997" y1="95.94077198531906" x2="276.2" y2="95.94077198531906" stroke="#111" stroke-width="0.8" />
<line x1="274.59999999999997" y1="94.59369447256384" x2="276.2" y2="94.59369447256384" stroke="#111" stroke-width="0.8" />
<line x1="274.59999999999997" y1="93.4054878973287" x2="276.2" y2="93.4054878973287" stroke="#111" stroke-width="0.8" />
<line x1="273.2" y1="92.342600896861" x2="276.2" y2="92.342600896861" stroke="#111" stroke-width="1.2" />
<text x="265.8" y="95.9" font-size="8.6" text-anchor="end" fill="#111" textLength="8.80" lengthAdjust="spacingAndGlyphs">10</text>
<text x="265.8" y="91.8" font-size="5.9" fill="#111" style="stroke-width:0.18px">2</text>
<line x1="274.59999999999997" y1="85.35006557157212" x2="276.2" y2="85.35006557157212" stroke="#111" stroke-width="0.8" />
<line x1="274.59999999999997" y1="81.2596946213101" x2="276.2" y2="81.2596946213101" stroke="#111" stroke-width="0.8" />
<line x1="274.59999999999997" y1="78.35753024628322" x2="276.2" y2="78.35753024628322" stroke="#111" stroke-width="0.8" />
<line x1="274.59999999999997" y1="76.10643667058038" x2="276.2" y2="76.10643667058038" stroke="#111" stroke-width="0.8" />
<line x1="274.59999999999997" y1="74.2671592960212" x2="276.2" y2="74.2671592960212" stroke="#111" stroke-width="0.8" />
<line x1="274.59999999999997" y1="72.71207243374957" x2="276.2" y2="72.71207243374957" stroke="#111" stroke-width="0.8" />
<line x1="274.59999999999997" y1="71.36499492099432" x2="276.2" y2="71.36499492099432" stroke="#111" stroke-width="0.8" />
<line x1="274.59999999999997" y1="70.17678834575919" x2="276.2" y2="70.17678834575919" stroke="#111" stroke-width="0.8" />
<line x1="273.2" y1="69.11390134529148" x2="276.2" y2="69.11390134529148" stroke="#111" stroke-width="1.2" />
<text x="265.8" y="72.7" font-size="8.6" text-anchor="end" fill="#111" textLength="8.80" lengthAdjust="spacingAndGlyphs">10</text>
<text x="265.8" y="68.6" font-size="5.9" fill="#111" style="stroke-width:0.18px">3</text>
<line x1="274.59999999999997" y1="62.12136602000259" x2="276.2" y2="62.12136602000259" stroke="#111" stroke-width="0.8" />
<line x1="274.59999999999997" y1="58.03099506974058" x2="276.2" y2="58.03099506974058" stroke="#111" stroke-width="0.8" />
<line x1="274.59999999999997" y1="55.1288306947137" x2="276.2" y2="55.1288306947137" stroke="#111" stroke-width="0.8" />
<line x1="274.59999999999997" y1="52.87773711901086" x2="276.2" y2="52.87773711901086" stroke="#111" stroke-width="0.8" />
<line x1="274.59999999999997" y1="51.038459744451686" x2="276.2" y2="51.038459744451686" stroke="#111" stroke-width="0.8" />
<line x1="274.59999999999997" y1="49.48337288218004" x2="276.2" y2="49.48337288218004" stroke="#111" stroke-width="0.8" />
<line x1="274.59999999999997" y1="48.13629536942481" x2="276.2" y2="48.13629536942481" stroke="#111" stroke-width="0.8" />
<line x1="274.59999999999997" y1="46.94808879418967" x2="276.2" y2="46.94808879418967" stroke="#111" stroke-width="0.8" />
<line x1="273.2" y1="45.885201793721976" x2="276.2" y2="45.885201793721976" stroke="#111" stroke-width="1.2" />
<text x="265.8" y="49.5" font-size="8.6" text-anchor="end" fill="#111" textLength="8.80" lengthAdjust="spacingAndGlyphs">10</text>
<text x="265.8" y="45.4" font-size="5.9" fill="#111" style="stroke-width:0.18px">4</text>
<line x1="274.59999999999997" y1="38.892666468433085" x2="276.2" y2="38.892666468433085" stroke="#111" stroke-width="0.8" />
<line x1="276.2" y1="138.8" x2="276.2" y2="141.8" stroke="#111" stroke-width="1.2" />
<text x="278.8" y="152.7" font-size="8.6" text-anchor="end" fill="#111" textLength="8.80" lengthAdjust="spacingAndGlyphs">10</text>
<text x="278.8" y="149.1" font-size="5.9" fill="#111" style="stroke-width:0.18px">0</text>
<line x1="281.9339046793139" y1="138.8" x2="281.9339046793139" y2="140.4" stroke="#111" stroke-width="0.8" />
<line x1="285.2880238994221" y1="138.8" x2="285.2880238994221" y2="140.4" stroke="#111" stroke-width="0.8" />
<line x1="287.66780935862784" y1="138.8" x2="287.66780935862784" y2="140.4" stroke="#111" stroke-width="0.8" />
<line x1="289.5137143683051" y1="138.8" x2="289.5137143683051" y2="140.4" stroke="#111" stroke-width="0.8" />
<line x1="291.02192857873604" y1="138.8" x2="291.02192857873604" y2="140.4" stroke="#111" stroke-width="0.8" />
<line x1="292.2971055240811" y1="138.8" x2="292.2971055240811" y2="140.4" stroke="#111" stroke-width="0.8" />
<line x1="293.40171403794176" y1="138.8" x2="293.40171403794176" y2="140.4" stroke="#111" stroke-width="0.8" />
<line x1="294.3760477988443" y1="138.8" x2="294.3760477988443" y2="140.4" stroke="#111" stroke-width="0.8" />
<line x1="295.247619047619" y1="138.8" x2="295.247619047619" y2="141.8" stroke="#111" stroke-width="1.2" />
<text x="297.8" y="152.7" font-size="8.6" text-anchor="end" fill="#111" textLength="8.80" lengthAdjust="spacingAndGlyphs">10</text>
<text x="297.8" y="149.1" font-size="5.9" fill="#111" style="stroke-width:0.18px">1</text>
<line x1="300.98152372693295" y1="138.8" x2="300.98152372693295" y2="140.4" stroke="#111" stroke-width="0.8" />
<line x1="304.33564294704115" y1="138.8" x2="304.33564294704115" y2="140.4" stroke="#111" stroke-width="0.8" />
<line x1="306.7154284062469" y1="138.8" x2="306.7154284062469" y2="140.4" stroke="#111" stroke-width="0.8" />
<line x1="308.56133341592414" y1="138.8" x2="308.56133341592414" y2="140.4" stroke="#111" stroke-width="0.8" />
<line x1="310.0695476263551" y1="138.8" x2="310.0695476263551" y2="140.4" stroke="#111" stroke-width="0.8" />
<line x1="311.3447245717001" y1="138.8" x2="311.3447245717001" y2="140.4" stroke="#111" stroke-width="0.8" />
<line x1="312.4493330855608" y1="138.8" x2="312.4493330855608" y2="140.4" stroke="#111" stroke-width="0.8" />
<line x1="313.42366684646333" y1="138.8" x2="313.42366684646333" y2="140.4" stroke="#111" stroke-width="0.8" />
<line x1="314.29523809523806" y1="138.8" x2="314.29523809523806" y2="141.8" stroke="#111" stroke-width="1.2" />
<text x="316.9" y="152.7" font-size="8.6" text-anchor="end" fill="#111" textLength="8.80" lengthAdjust="spacingAndGlyphs">10</text>
<text x="316.9" y="149.1" font-size="5.9" fill="#111" style="stroke-width:0.18px">2</text>
<line x1="320.029142774552" y1="138.8" x2="320.029142774552" y2="140.4" stroke="#111" stroke-width="0.8" />
<line x1="323.3832619946602" y1="138.8" x2="323.3832619946602" y2="140.4" stroke="#111" stroke-width="0.8" />
<line x1="325.7630474538659" y1="138.8" x2="325.7630474538659" y2="140.4" stroke="#111" stroke-width="0.8" />
<line x1="327.6089524635432" y1="138.8" x2="327.6089524635432" y2="140.4" stroke="#111" stroke-width="0.8" />
<line x1="329.1171666739741" y1="138.8" x2="329.1171666739741" y2="140.4" stroke="#111" stroke-width="0.8" />
<line x1="330.39234361931915" y1="138.8" x2="330.39234361931915" y2="140.4" stroke="#111" stroke-width="0.8" />
<line x1="331.49695213317983" y1="138.8" x2="331.49695213317983" y2="140.4" stroke="#111" stroke-width="0.8" />
<line x1="332.47128589408237" y1="138.8" x2="332.47128589408237" y2="140.4" stroke="#111" stroke-width="0.8" />
<line x1="333.34285714285716" y1="138.8" x2="333.34285714285716" y2="141.8" stroke="#111" stroke-width="1.2" />
<text x="335.9" y="152.7" font-size="8.6" text-anchor="end" fill="#111" textLength="8.80" lengthAdjust="spacingAndGlyphs">10</text>
<text x="335.9" y="149.1" font-size="5.9" fill="#111" style="stroke-width:0.18px">3</text>
<line x1="339.0767618221711" y1="138.8" x2="339.0767618221711" y2="140.4" stroke="#111" stroke-width="0.8" />
<line x1="342.4308810422793" y1="138.8" x2="342.4308810422793" y2="140.4" stroke="#111" stroke-width="0.8" />
<line x1="344.810666501485" y1="138.8" x2="344.810666501485" y2="140.4" stroke="#111" stroke-width="0.8" />
<line x1="346.65657151116227" y1="138.8" x2="346.65657151116227" y2="140.4" stroke="#111" stroke-width="0.8" />
<line x1="348.1647857215932" y1="138.8" x2="348.1647857215932" y2="140.4" stroke="#111" stroke-width="0.8" />
<line x1="349.43996266693824" y1="138.8" x2="349.43996266693824" y2="140.4" stroke="#111" stroke-width="0.8" />
<line x1="350.5445711807989" y1="138.8" x2="350.5445711807989" y2="140.4" stroke="#111" stroke-width="0.8" />
<line x1="351.51890494170146" y1="138.8" x2="351.51890494170146" y2="140.4" stroke="#111" stroke-width="0.8" />
<line x1="352.3904761904762" y1="138.8" x2="352.3904761904762" y2="141.8" stroke="#111" stroke-width="1.2" />
<text x="355.0" y="152.7" font-size="8.6" text-anchor="end" fill="#111" textLength="8.80" lengthAdjust="spacingAndGlyphs">10</text>
<text x="355.0" y="149.1" font-size="5.9" fill="#111" style="stroke-width:0.18px">4</text>
<line x1="358.1243808697901" y1="138.8" x2="358.1243808697901" y2="140.4" stroke="#111" stroke-width="0.8" />
<line x1="361.4785000898983" y1="138.8" x2="361.4785000898983" y2="140.4" stroke="#111" stroke-width="0.8" />
<line x1="363.85828554910404" y1="138.8" x2="363.85828554910404" y2="140.4" stroke="#111" stroke-width="0.8" />
<line x1="365.7041905587813" y1="138.8" x2="365.7041905587813" y2="140.4" stroke="#111" stroke-width="0.8" />
<line x1="367.21240476921224" y1="138.8" x2="367.21240476921224" y2="140.4" stroke="#111" stroke-width="0.8" />
<line x1="368.4875817145573" y1="138.8" x2="368.4875817145573" y2="140.4" stroke="#111" stroke-width="0.8" />
<line x1="369.59219022841796" y1="138.8" x2="369.59219022841796" y2="140.4" stroke="#111" stroke-width="0.8" />
<line x1="370.5665239893205" y1="138.8" x2="370.5665239893205" y2="140.4" stroke="#111" stroke-width="0.8" />
<line x1="371.43809523809523" y1="138.8" x2="371.43809523809523" y2="141.8" stroke="#111" stroke-width="1.2" />
<text x="374.0" y="152.7" font-size="8.6" text-anchor="end" fill="#111" textLength="8.80" lengthAdjust="spacingAndGlyphs">10</text>
<text x="374.0" y="149.1" font-size="5.9" fill="#111" style="stroke-width:0.18px">5</text>
<text x="328.5" y="29.5" font-size="10.8" text-anchor="middle" fill="#111" textLength="26.94" lengthAdjust="spacingAndGlyphs">Day 3</text>
<text x="279.5" y="49.2" font-size="8.6" text-anchor="start" fill="#111" textLength="15.56" lengthAdjust="spacingAndGlyphs">1.40</text>
<text x="346.8" y="49.2" font-size="8.6" text-anchor="start" fill="#111" textLength="15.56" lengthAdjust="spacingAndGlyphs">16.6</text>
<text x="279.0" y="131.7" font-size="8.6" text-anchor="start" fill="#111" textLength="15.56" lengthAdjust="spacingAndGlyphs">5.59</text>
<text x="346.8" y="131.7" font-size="8.6" text-anchor="start" fill="#111" textLength="15.56" lengthAdjust="spacingAndGlyphs">76.4</text>
<g filter="url(#bl03)">
<path d="M423 56h1v1h-1zM434 58h1v1h-1zM473 61h1v1h-1zM477 61h1v1h-1zM487 61h1v1h-1zM441 62h1v1h-1zM480 62h1v1h-1zM472 64h1v1h-1zM436 67h1v1h-1zM488 67h1v1h-1zM437 68h1v1h-1zM484 68h1v1h-1zM452 70h1v1h-1zM421 73h1v1h-1zM426 74h1v1h-1zM444 74h1v1h-1zM454 74h1v1h-1zM448 76h1v1h-1zM448 78h1v1h-1zM485 78h1v1h-1zM417 80h1v1h-1zM419 81h1v1h-1zM415 82h1v1h-1zM486 84h1v1h-1zM436 85h1v1h-1zM441 86h1v1h-1zM482 87h1v1h-1zM434 89h1v1h-1zM485 89h1v1h-1zM424 90h1v1h-1zM440 90h1v1h-1zM444 90h1v1h-1zM489 90h1v1h-1zM419 91h1v1h-1zM431 91h1v1h-1zM480 93h1v1h-1zM437 94h1v1h-1zM441 94h1v1h-1zM476 94h1v1h-1zM482 96h1v1h-1zM429 97h1v1h-1zM435 98h1v1h-1zM417 99h1v1h-1zM480 99h1v1h-1zM476 100h1v1h-1zM418 101h1v1h-1zM471 101h1v1h-1zM483 101h1v1h-1zM424 102h1v1h-1zM438 102h1v1h-1zM441 103h1v1h-1zM442 107h1v1h-1zM475 107h1v1h-1zM479 107h1v1h-1zM493 107h1v1h-1zM428 108h1v1h-1zM425 109h1v1h-1zM447 110h1v1h-1zM429 111h1v1h-1zM427 112h1v1h-1zM421 113h1v1h-1zM467 116h1v1h-1zM465 118h1v1h-1zM469 118h1v1h-1zM447 119h1v1h-1zM457 120h1v1h-1zM414 121h1v1h-1zM464 121h1v1h-1zM447 122h1v1h-1zM469 122h1v1h-1zM437 123h1v1h-1zM468 124h1v1h-1zM462 126h1v1h-1zM465 126h1v1h-1zM457 127h1v1h-1zM480 130h1v1h-1zM414 132h1v1h-1zM443 132h1v1h-1zM420 133h1v1h-1zM458 135h1v1h-1zM444 137h1v1h-1z" fill="#b8b8d2"/>
<path d="M476 65h1v1h-1zM479 65h1v1h-1zM477 66h1v1h-1zM472 67h1v1h-1zM487 67h1v1h-1zM468 68h1v1h-1zM469 68h1v1h-1zM470 68h1v1h-1zM473 68h1v1h-1zM477 68h1v1h-1zM478 68h1v1h-1zM463 70h1v1h-1zM482 70h1v1h-1zM483 73h1v1h-1zM484 74h1v1h-1zM456 76h1v1h-1zM459 76h1v1h-1zM482 78h1v1h-1zM452 79h1v1h-1zM482 80h1v1h-1zM482 82h1v1h-1zM483 82h1v1h-1zM447 83h1v1h-1zM447 84h1v1h-1zM448 86h1v1h-1zM447 89h1v1h-1zM482 89h1v1h-1zM450 91h1v1h-1zM482 91h1v1h-1zM447 92h1v1h-1zM448 93h1v1h-1zM446 94h1v1h-1zM449 94h1v1h-1zM471 95h1v1h-1zM473 95h1v1h-1zM475 96h1v1h-1zM448 97h1v1h-1zM473 97h1v1h-1zM445 98h1v1h-1zM443 100h1v1h-1zM448 100h1v1h-1zM446 102h1v1h-1zM469 102h1v1h-1zM444 103h1v1h-1zM445 103h1v1h-1zM449 103h1v1h-1zM469 103h1v1h-1zM452 105h1v1h-1zM468 105h1v1h-1zM450 107h1v1h-1zM451 107h1v1h-1zM452 108h1v1h-1zM468 108h1v1h-1zM466 109h1v1h-1zM450 110h1v1h-1zM470 110h1v1h-1zM458 111h1v1h-1zM469 111h1v1h-1zM464 113h1v1h-1zM450 114h1v1h-1zM460 115h1v1h-1zM461 115h1v1h-1zM452 117h1v1h-1zM454 117h1v1h-1zM453 119h1v1h-1zM450 122h1v1h-1zM458 122h1v1h-1zM460 123h1v1h-1zM451 124h1v1h-1zM452 124h1v1h-1zM457 124h1v1h-1zM460 124h1v1h-1z" fill="#a2a2c6"/>
<path d="M475 69h1v1h-1zM477 69h1v1h-1zM469 70h1v1h-1zM474 70h1v1h-1zM464 71h1v1h-1zM466 71h1v1h-1zM468 71h1v1h-1zM473 71h1v1h-1zM477 71h1v1h-1zM478 71h1v1h-1zM470 72h1v1h-1zM472 72h1v1h-1zM474 72h1v1h-1zM476 72h1v1h-1zM480 72h1v1h-1zM464 73h1v1h-1zM474 73h1v1h-1zM477 73h1v1h-1zM478 73h1v1h-1zM480 73h1v1h-1zM463 74h1v1h-1zM464 74h1v1h-1zM476 74h1v1h-1zM478 74h1v1h-1zM481 74h1v1h-1zM462 75h1v1h-1zM476 76h1v1h-1zM458 77h1v1h-1zM462 77h1v1h-1zM479 77h1v1h-1zM480 77h1v1h-1zM481 77h1v1h-1zM460 78h1v1h-1zM480 78h1v1h-1zM458 79h1v1h-1zM459 79h1v1h-1zM479 79h1v1h-1zM455 80h1v1h-1zM456 80h1v1h-1zM458 80h1v1h-1zM479 80h1v1h-1zM453 81h1v1h-1zM455 81h1v1h-1zM456 81h1v1h-1zM479 81h1v1h-1zM455 82h1v1h-1zM479 82h1v1h-1zM480 82h1v1h-1zM455 83h1v1h-1zM453 84h1v1h-1zM454 84h1v1h-1zM455 84h1v1h-1zM477 84h1v1h-1zM456 85h1v1h-1zM455 86h1v1h-1zM456 86h1v1h-1zM450 87h1v1h-1zM452 87h1v1h-1zM475 87h1v1h-1zM449 88h1v1h-1zM451 88h1v1h-1zM452 88h1v1h-1zM453 88h1v1h-1zM473 88h1v1h-1zM474 88h1v1h-1zM475 88h1v1h-1zM453 90h1v1h-1zM454 90h1v1h-1zM473 90h1v1h-1zM471 92h1v1h-1zM472 92h1v1h-1zM469 93h1v1h-1zM453 94h1v1h-1zM468 94h1v1h-1zM466 95h1v1h-1zM467 95h1v1h-1zM453 96h1v1h-1zM466 96h1v1h-1zM449 97h1v1h-1zM450 97h1v1h-1zM451 97h1v1h-1zM451 98h1v1h-1zM465 98h1v1h-1zM451 99h1v1h-1zM465 99h1v1h-1zM451 100h1v1h-1zM451 101h1v1h-1zM450 102h1v1h-1zM453 102h1v1h-1zM454 102h1v1h-1zM465 102h1v1h-1zM454 103h1v1h-1zM455 103h1v1h-1zM464 103h1v1h-1zM465 103h1v1h-1zM454 104h1v1h-1zM464 104h1v1h-1zM467 104h1v1h-1zM463 105h1v1h-1zM464 105h1v1h-1zM467 105h1v1h-1zM456 106h1v1h-1zM459 106h1v1h-1zM457 107h1v1h-1zM458 107h1v1h-1zM460 107h1v1h-1zM464 107h1v1h-1zM466 107h1v1h-1zM458 108h1v1h-1zM460 108h1v1h-1zM461 108h1v1h-1zM462 108h1v1h-1zM463 108h1v1h-1zM464 108h1v1h-1zM456 109h1v1h-1zM459 109h1v1h-1zM463 109h1v1h-1zM451 110h1v1h-1zM453 110h1v1h-1zM454 110h1v1h-1zM455 110h1v1h-1zM456 110h1v1h-1zM461 110h1v1h-1zM463 110h1v1h-1zM453 111h1v1h-1zM454 111h1v1h-1zM461 111h1v1h-1zM462 111h1v1h-1zM452 113h1v1h-1zM454 113h1v1h-1zM455 113h1v1h-1zM451 114h1v1h-1zM453 114h1v1h-1zM454 114h1v1h-1zM452 115h1v1h-1z" fill="#8c8eba"/>
<path d="M465 73h1v1h-1zM467 73h1v1h-1zM468 73h1v1h-1zM472 73h1v1h-1zM473 73h1v1h-1zM466 74h1v1h-1zM467 74h1v1h-1zM472 74h1v1h-1zM473 74h1v1h-1zM466 75h1v1h-1zM467 75h1v1h-1zM470 75h1v1h-1zM472 75h1v1h-1zM474 75h1v1h-1zM465 76h1v1h-1zM464 77h1v1h-1zM474 77h1v1h-1zM475 77h1v1h-1zM476 77h1v1h-1zM462 78h1v1h-1zM463 78h1v1h-1zM464 78h1v1h-1zM475 78h1v1h-1zM461 79h1v1h-1zM476 79h1v1h-1zM459 80h1v1h-1zM462 80h1v1h-1zM475 80h1v1h-1zM476 80h1v1h-1zM477 80h1v1h-1zM461 81h1v1h-1zM476 81h1v1h-1zM477 81h1v1h-1zM458 82h1v1h-1zM460 82h1v1h-1zM460 83h1v1h-1zM475 83h1v1h-1zM476 83h1v1h-1zM475 84h1v1h-1zM457 85h1v1h-1zM458 85h1v1h-1zM459 85h1v1h-1zM475 85h1v1h-1zM458 86h1v1h-1zM472 86h1v1h-1zM475 86h1v1h-1zM458 87h1v1h-1zM471 87h1v1h-1zM458 88h1v1h-1zM460 88h1v1h-1zM465 88h1v1h-1zM469 88h1v1h-1zM472 88h1v1h-1zM457 89h1v1h-1zM461 89h1v1h-1zM463 89h1v1h-1zM464 89h1v1h-1zM467 89h1v1h-1zM468 89h1v1h-1zM469 89h1v1h-1zM470 89h1v1h-1zM471 89h1v1h-1zM455 90h1v1h-1zM456 90h1v1h-1zM457 90h1v1h-1zM459 90h1v1h-1zM460 90h1v1h-1zM462 90h1v1h-1zM463 90h1v1h-1zM465 90h1v1h-1zM470 90h1v1h-1zM457 91h1v1h-1zM459 91h1v1h-1zM466 91h1v1h-1zM467 91h1v1h-1zM470 91h1v1h-1zM454 92h1v1h-1zM455 92h1v1h-1zM456 92h1v1h-1zM458 92h1v1h-1zM460 92h1v1h-1zM461 92h1v1h-1zM462 92h1v1h-1zM463 92h1v1h-1zM465 92h1v1h-1zM466 92h1v1h-1zM467 92h1v1h-1zM469 92h1v1h-1zM456 93h1v1h-1zM458 93h1v1h-1zM460 93h1v1h-1zM462 93h1v1h-1zM464 93h1v1h-1zM465 93h1v1h-1zM467 93h1v1h-1zM454 94h1v1h-1zM455 94h1v1h-1zM456 94h1v1h-1zM457 94h1v1h-1zM462 94h1v1h-1zM464 94h1v1h-1zM457 95h1v1h-1zM460 95h1v1h-1zM462 95h1v1h-1zM456 96h1v1h-1zM457 96h1v1h-1zM459 96h1v1h-1zM462 96h1v1h-1zM463 96h1v1h-1zM464 96h1v1h-1zM465 96h1v1h-1zM455 97h1v1h-1zM456 97h1v1h-1zM457 97h1v1h-1zM458 97h1v1h-1zM459 97h1v1h-1zM460 97h1v1h-1zM462 97h1v1h-1zM463 97h1v1h-1zM455 98h1v1h-1zM456 98h1v1h-1zM457 98h1v1h-1zM461 98h1v1h-1zM462 98h1v1h-1zM463 98h1v1h-1zM464 98h1v1h-1zM452 99h1v1h-1zM453 99h1v1h-1zM455 99h1v1h-1zM459 99h1v1h-1zM460 99h1v1h-1zM461 99h1v1h-1zM462 99h1v1h-1zM463 99h1v1h-1zM464 99h1v1h-1zM452 100h1v1h-1zM458 100h1v1h-1zM460 100h1v1h-1zM461 100h1v1h-1zM455 101h1v1h-1zM456 101h1v1h-1zM458 101h1v1h-1zM459 101h1v1h-1zM461 101h1v1h-1zM462 101h1v1h-1zM463 101h1v1h-1zM456 102h1v1h-1zM459 102h1v1h-1zM460 102h1v1h-1zM462 102h1v1h-1zM457 103h1v1h-1zM459 103h1v1h-1zM460 103h1v1h-1zM462 103h1v1h-1zM458 104h1v1h-1zM459 104h1v1h-1zM460 104h1v1h-1zM461 104h1v1h-1z" fill="#8a98aa"/>
<path d="M466 76h1v1h-1zM467 76h1v1h-1zM468 76h1v1h-1zM469 76h1v1h-1zM470 76h1v1h-1zM471 76h1v1h-1zM472 76h1v1h-1zM466 77h1v1h-1zM467 77h1v1h-1zM469 77h1v1h-1zM470 77h1v1h-1zM471 77h1v1h-1zM472 77h1v1h-1zM473 77h1v1h-1zM466 78h1v1h-1zM467 78h1v1h-1zM468 78h1v1h-1zM469 78h1v1h-1zM470 78h1v1h-1zM471 78h1v1h-1zM472 78h1v1h-1zM473 78h1v1h-1zM474 78h1v1h-1zM467 79h1v1h-1zM468 79h1v1h-1zM469 79h1v1h-1zM470 79h1v1h-1zM471 79h1v1h-1zM472 79h1v1h-1zM473 79h1v1h-1zM474 79h1v1h-1zM463 80h1v1h-1zM464 80h1v1h-1zM465 80h1v1h-1zM466 80h1v1h-1zM467 80h1v1h-1zM468 80h1v1h-1zM469 80h1v1h-1zM471 80h1v1h-1zM472 80h1v1h-1zM473 80h1v1h-1zM462 81h1v1h-1zM463 81h1v1h-1zM464 81h1v1h-1zM465 81h1v1h-1zM466 81h1v1h-1zM467 81h1v1h-1zM468 81h1v1h-1zM469 81h1v1h-1zM472 81h1v1h-1zM473 81h1v1h-1zM474 81h1v1h-1zM475 81h1v1h-1zM462 82h1v1h-1zM463 82h1v1h-1zM464 82h1v1h-1zM465 82h1v1h-1zM466 82h1v1h-1zM468 82h1v1h-1zM469 82h1v1h-1zM470 82h1v1h-1zM471 82h1v1h-1zM472 82h1v1h-1zM473 82h1v1h-1zM474 82h1v1h-1zM461 83h1v1h-1zM462 83h1v1h-1zM463 83h1v1h-1zM464 83h1v1h-1zM465 83h1v1h-1zM469 83h1v1h-1zM470 83h1v1h-1zM471 83h1v1h-1zM472 83h1v1h-1zM473 83h1v1h-1zM474 83h1v1h-1zM460 84h1v1h-1zM461 84h1v1h-1zM463 84h1v1h-1zM464 84h1v1h-1zM466 84h1v1h-1zM469 84h1v1h-1zM470 84h1v1h-1zM471 84h1v1h-1zM472 84h1v1h-1zM473 84h1v1h-1zM460 85h1v1h-1zM461 85h1v1h-1zM462 85h1v1h-1zM463 85h1v1h-1zM464 85h1v1h-1zM465 85h1v1h-1zM466 85h1v1h-1zM467 85h1v1h-1zM468 85h1v1h-1zM469 85h1v1h-1zM470 85h1v1h-1zM471 85h1v1h-1zM472 85h1v1h-1zM460 86h1v1h-1zM461 86h1v1h-1zM462 86h1v1h-1zM463 86h1v1h-1zM464 86h1v1h-1zM465 86h1v1h-1zM466 86h1v1h-1zM467 86h1v1h-1zM461 87h1v1h-1zM464 87h1v1h-1zM466 87h1v1h-1zM467 87h1v1h-1zM469 87h1v1h-1zM461 88h1v1h-1zM462 88h1v1h-1zM466 88h1v1h-1zM459 93h1v1h-1zM459 94h1v1h-1zM460 94h1v1h-1zM459 95h1v1h-1z" fill="#92a890"/>
<path d="M467 82h1v1h-1zM466 83h1v1h-1zM467 83h1v1h-1zM468 83h1v1h-1zM468 84h1v1h-1z" fill="#9cb080"/>
</g>
<rect x="408.2" y="35.2" width="103.2" height="103.4" fill="none" stroke="#111" stroke-width="1.4"/>
<line x1="454.5" y1="35.2" x2="454.5" y2="138.6" stroke="#111" stroke-width="1.3" />
<line x1="408.2" y1="90.1" x2="511.4" y2="90.1" stroke="#111" stroke-width="1.3" />
<line x1="405.2" y1="138.6" x2="408.2" y2="138.6" stroke="#111" stroke-width="1.2" />
<text x="397.8" y="142.2" font-size="8.6" text-anchor="end" fill="#111" textLength="8.80" lengthAdjust="spacingAndGlyphs">10</text>
<text x="397.8" y="138.1" font-size="5.9" fill="#111" style="stroke-width:0.18px">0</text>
<line x1="406.59999999999997" y1="131.62096377765567" x2="408.2" y2="131.62096377765567" stroke="#111" stroke-width="0.8" />
<line x1="406.59999999999997" y1="127.53848929640961" x2="408.2" y2="127.53848929640961" stroke="#111" stroke-width="0.8" />
<line x1="406.59999999999997" y1="124.64192755531136" x2="408.2" y2="124.64192755531136" stroke="#111" stroke-width="0.8" />
<line x1="406.59999999999997" y1="122.39517972010216" x2="408.2" y2="122.39517972010216" stroke="#111" stroke-width="0.8" />
<line x1="406.59999999999997" y1="120.5594530740653" x2="408.2" y2="120.5594530740653" stroke="#111" stroke-width="0.8" />
<line x1="406.59999999999997" y1="119.00736830998338" x2="408.2" y2="119.00736830998338" stroke="#111" stroke-width="0.8" />
<line x1="406.59999999999997" y1="117.66289133296705" x2="408.2" y2="117.66289133296705" stroke="#111" stroke-width="0.8" />
<line x1="406.59999999999997" y1="116.47697859281924" x2="408.2" y2="116.47697859281924" stroke="#111" stroke-width="0.8" />
<line x1="405.2" y1="115.41614349775784" x2="408.2" y2="115.41614349775784" stroke="#111" stroke-width="1.2" />
<text x="397.8" y="119.0" font-size="8.6" text-anchor="end" fill="#111" textLength="8.80" lengthAdjust="spacingAndGlyphs">10</text>
<text x="397.8" y="114.9" font-size="5.9" fill="#111" style="stroke-width:0.18px">1</text>
<line x1="406.59999999999997" y1="108.43710727541352" x2="408.2" y2="108.43710727541352" stroke="#111" stroke-width="0.8" />
<line x1="406.59999999999997" y1="104.35463279416746" x2="408.2" y2="104.35463279416746" stroke="#111" stroke-width="0.8" />
<line x1="406.59999999999997" y1="101.4580710530692" x2="408.2" y2="101.4580710530692" stroke="#111" stroke-width="0.8" />
<line x1="406.59999999999997" y1="99.21132321786001" x2="408.2" y2="99.21132321786001" stroke="#111" stroke-width="0.8" />
<line x1="406.59999999999997" y1="97.37559657182315" x2="408.2" y2="97.37559657182315" stroke="#111" stroke-width="0.8" />
<line x1="406.59999999999997" y1="95.82351180774123" x2="408.2" y2="95.82351180774123" stroke="#111" stroke-width="0.8" />
<line x1="406.59999999999997" y1="94.4790348307249" x2="408.2" y2="94.4790348307249" stroke="#111" stroke-width="0.8" />
<line x1="406.59999999999997" y1="93.29312209057709" x2="408.2" y2="93.29312209057709" stroke="#111" stroke-width="0.8" />
<line x1="405.2" y1="92.2322869955157" x2="408.2" y2="92.2322869955157" stroke="#111" stroke-width="1.2" />
<text x="397.8" y="95.8" font-size="8.6" text-anchor="end" fill="#111" textLength="8.80" lengthAdjust="spacingAndGlyphs">10</text>
<text x="397.8" y="91.7" font-size="5.9" fill="#111" style="stroke-width:0.18px">2</text>
<line x1="406.59999999999997" y1="85.25325077317137" x2="408.2" y2="85.25325077317137" stroke="#111" stroke-width="0.8" />
<line x1="406.59999999999997" y1="81.1707762919253" x2="408.2" y2="81.1707762919253" stroke="#111" stroke-width="0.8" />
<line x1="406.59999999999997" y1="78.27421455082705" x2="408.2" y2="78.27421455082705" stroke="#111" stroke-width="0.8" />
<line x1="406.59999999999997" y1="76.02746671561786" x2="408.2" y2="76.02746671561786" stroke="#111" stroke-width="0.8" />
<line x1="406.59999999999997" y1="74.191740069581" x2="408.2" y2="74.191740069581" stroke="#111" stroke-width="0.8" />
<line x1="406.59999999999997" y1="72.63965530549908" x2="408.2" y2="72.63965530549908" stroke="#111" stroke-width="0.8" />
<line x1="406.59999999999997" y1="71.29517832848275" x2="408.2" y2="71.29517832848275" stroke="#111" stroke-width="0.8" />
<line x1="406.59999999999997" y1="70.10926558833494" x2="408.2" y2="70.10926558833494" stroke="#111" stroke-width="0.8" />
<line x1="405.2" y1="69.04843049327354" x2="408.2" y2="69.04843049327354" stroke="#111" stroke-width="1.2" />
<text x="397.8" y="72.6" font-size="8.6" text-anchor="end" fill="#111" textLength="8.80" lengthAdjust="spacingAndGlyphs">10</text>
<text x="397.8" y="68.5" font-size="5.9" fill="#111" style="stroke-width:0.18px">3</text>
<line x1="406.59999999999997" y1="62.06939427092922" x2="408.2" y2="62.06939427092922" stroke="#111" stroke-width="0.8" />
<line x1="406.59999999999997" y1="57.986919789683164" x2="408.2" y2="57.986919789683164" stroke="#111" stroke-width="0.8" />
<line x1="406.59999999999997" y1="55.09035804858491" x2="408.2" y2="55.09035804858491" stroke="#111" stroke-width="0.8" />
<line x1="406.59999999999997" y1="52.84361021337571" x2="408.2" y2="52.84361021337571" stroke="#111" stroke-width="0.8" />
<line x1="406.59999999999997" y1="51.00788356733885" x2="408.2" y2="51.00788356733885" stroke="#111" stroke-width="0.8" />
<line x1="406.59999999999997" y1="49.45579880325692" x2="408.2" y2="49.45579880325692" stroke="#111" stroke-width="0.8" />
<line x1="406.59999999999997" y1="48.1113218262406" x2="408.2" y2="48.1113218262406" stroke="#111" stroke-width="0.8" />
<line x1="406.59999999999997" y1="46.925409086092785" x2="408.2" y2="46.925409086092785" stroke="#111" stroke-width="0.8" />
<line x1="405.2" y1="45.86457399103139" x2="408.2" y2="45.86457399103139" stroke="#111" stroke-width="1.2" />
<text x="397.8" y="49.5" font-size="8.6" text-anchor="end" fill="#111" textLength="8.80" lengthAdjust="spacingAndGlyphs">10</text>
<text x="397.8" y="45.4" font-size="5.9" fill="#111" style="stroke-width:0.18px">4</text>
<line x1="406.59999999999997" y1="38.88553776868707" x2="408.2" y2="38.88553776868707" stroke="#111" stroke-width="0.8" />
<line x1="408.2" y1="138.6" x2="408.2" y2="141.6" stroke="#111" stroke-width="1.2" />
<text x="410.8" y="152.5" font-size="8.6" text-anchor="end" fill="#111" textLength="8.80" lengthAdjust="spacingAndGlyphs">10</text>
<text x="410.8" y="148.9" font-size="5.9" fill="#111" style="stroke-width:0.18px">0</text>
<line x1="413.88979772024226" y1="138.6" x2="413.88979772024226" y2="140.2" stroke="#111" stroke-width="0.8" />
<line x1="417.2181160232727" y1="138.6" x2="417.2181160232727" y2="140.2" stroke="#111" stroke-width="0.8" />
<line x1="419.5795954404845" y1="138.6" x2="419.5795954404845" y2="140.2" stroke="#111" stroke-width="0.8" />
<line x1="421.4113011808566" y1="138.6" x2="421.4113011808566" y2="140.2" stroke="#111" stroke-width="0.8" />
<line x1="422.907913743515" y1="138.6" x2="422.907913743515" y2="140.2" stroke="#111" stroke-width="0.8" />
<line x1="424.1732816354343" y1="138.6" x2="424.1732816354343" y2="140.2" stroke="#111" stroke-width="0.8" />
<line x1="425.26939316072685" y1="138.6" x2="425.26939316072685" y2="140.2" stroke="#111" stroke-width="0.8" />
<line x1="426.23623204654547" y1="138.6" x2="426.23623204654547" y2="140.2" stroke="#111" stroke-width="0.8" />
<line x1="427.1010989010989" y1="138.6" x2="427.1010989010989" y2="141.6" stroke="#111" stroke-width="1.2" />
<text x="429.7" y="152.5" font-size="8.6" text-anchor="end" fill="#111" textLength="8.80" lengthAdjust="spacingAndGlyphs">10</text>
<text x="429.7" y="148.9" font-size="5.9" fill="#111" style="stroke-width:0.18px">1</text>
<line x1="432.7908966213412" y1="138.6" x2="432.7908966213412" y2="140.2" stroke="#111" stroke-width="0.8" />
<line x1="436.11921492437165" y1="138.6" x2="436.11921492437165" y2="140.2" stroke="#111" stroke-width="0.8" />
<line x1="438.48069434158344" y1="138.6" x2="438.48069434158344" y2="140.2" stroke="#111" stroke-width="0.8" />
<line x1="440.3124000819555" y1="138.6" x2="440.3124000819555" y2="140.2" stroke="#111" stroke-width="0.8" />
<line x1="441.8090126446139" y1="138.6" x2="441.8090126446139" y2="140.2" stroke="#111" stroke-width="0.8" />
<line x1="443.0743805365332" y1="138.6" x2="443.0743805365332" y2="140.2" stroke="#111" stroke-width="0.8" />
<line x1="444.17049206182577" y1="138.6" x2="444.17049206182577" y2="140.2" stroke="#111" stroke-width="0.8" />
<line x1="445.1373309476444" y1="138.6" x2="445.1373309476444" y2="140.2" stroke="#111" stroke-width="0.8" />
<line x1="446.00219780219777" y1="138.6" x2="446.00219780219777" y2="141.6" stroke="#111" stroke-width="1.2" />
<text x="448.6" y="152.5" font-size="8.6" text-anchor="end" fill="#111" textLength="8.80" lengthAdjust="spacingAndGlyphs">10</text>
<text x="448.6" y="148.9" font-size="5.9" fill="#111" style="stroke-width:0.18px">2</text>
<line x1="451.69199552244004" y1="138.6" x2="451.69199552244004" y2="140.2" stroke="#111" stroke-width="0.8" />
<line x1="455.0203138254705" y1="138.6" x2="455.0203138254705" y2="140.2" stroke="#111" stroke-width="0.8" />
<line x1="457.3817932426823" y1="138.6" x2="457.3817932426823" y2="140.2" stroke="#111" stroke-width="0.8" />
<line x1="459.21349898305436" y1="138.6" x2="459.21349898305436" y2="140.2" stroke="#111" stroke-width="0.8" />
<line x1="460.7101115457128" y1="138.6" x2="460.7101115457128" y2="140.2" stroke="#111" stroke-width="0.8" />
<line x1="461.9754794376321" y1="138.6" x2="461.9754794376321" y2="140.2" stroke="#111" stroke-width="0.8" />
<line x1="463.07159096292463" y1="138.6" x2="463.07159096292463" y2="140.2" stroke="#111" stroke-width="0.8" />
<line x1="464.03842984874325" y1="138.6" x2="464.03842984874325" y2="140.2" stroke="#111" stroke-width="0.8" />
<line x1="464.9032967032967" y1="138.6" x2="464.9032967032967" y2="141.6" stroke="#111" stroke-width="1.2" />
<text x="467.5" y="152.5" font-size="8.6" text-anchor="end" fill="#111" textLength="8.80" lengthAdjust="spacingAndGlyphs">10</text>
<text x="467.5" y="148.9" font-size="5.9" fill="#111" style="stroke-width:0.18px">3</text>
<line x1="470.59309442353896" y1="138.6" x2="470.59309442353896" y2="140.2" stroke="#111" stroke-width="0.8" />
<line x1="473.92141272656943" y1="138.6" x2="473.92141272656943" y2="140.2" stroke="#111" stroke-width="0.8" />
<line x1="476.2828921437812" y1="138.6" x2="476.2828921437812" y2="140.2" stroke="#111" stroke-width="0.8" />
<line x1="478.1145978841533" y1="138.6" x2="478.1145978841533" y2="140.2" stroke="#111" stroke-width="0.8" />
<line x1="479.6112104468117" y1="138.6" x2="479.6112104468117" y2="140.2" stroke="#111" stroke-width="0.8" />
<line x1="480.876578338731" y1="138.6" x2="480.876578338731" y2="140.2" stroke="#111" stroke-width="0.8" />
<line x1="481.97268986402355" y1="138.6" x2="481.97268986402355" y2="140.2" stroke="#111" stroke-width="0.8" />
<line x1="482.93952874984217" y1="138.6" x2="482.93952874984217" y2="140.2" stroke="#111" stroke-width="0.8" />
<line x1="483.8043956043956" y1="138.6" x2="483.8043956043956" y2="141.6" stroke="#111" stroke-width="1.2" />
<text x="486.4" y="152.5" font-size="8.6" text-anchor="end" fill="#111" textLength="8.80" lengthAdjust="spacingAndGlyphs">10</text>
<text x="486.4" y="148.9" font-size="5.9" fill="#111" style="stroke-width:0.18px">4</text>
<line x1="489.4941933246379" y1="138.6" x2="489.4941933246379" y2="140.2" stroke="#111" stroke-width="0.8" />
<line x1="492.82251162766835" y1="138.6" x2="492.82251162766835" y2="140.2" stroke="#111" stroke-width="0.8" />
<line x1="495.18399104488014" y1="138.6" x2="495.18399104488014" y2="140.2" stroke="#111" stroke-width="0.8" />
<line x1="497.0156967852522" y1="138.6" x2="497.0156967852522" y2="140.2" stroke="#111" stroke-width="0.8" />
<line x1="498.5123093479106" y1="138.6" x2="498.5123093479106" y2="140.2" stroke="#111" stroke-width="0.8" />
<line x1="499.7776772398299" y1="138.6" x2="499.7776772398299" y2="140.2" stroke="#111" stroke-width="0.8" />
<line x1="500.87378876512247" y1="138.6" x2="500.87378876512247" y2="140.2" stroke="#111" stroke-width="0.8" />
<line x1="501.8406276509411" y1="138.6" x2="501.8406276509411" y2="140.2" stroke="#111" stroke-width="0.8" />
<line x1="502.70549450549447" y1="138.6" x2="502.70549450549447" y2="141.6" stroke="#111" stroke-width="1.2" />
<text x="505.3" y="152.5" font-size="8.6" text-anchor="end" fill="#111" textLength="8.80" lengthAdjust="spacingAndGlyphs">10</text>
<text x="505.3" y="148.9" font-size="5.9" fill="#111" style="stroke-width:0.18px">5</text>
<text x="455.9" y="29.5" font-size="10.8" text-anchor="middle" fill="#111" textLength="26.94" lengthAdjust="spacingAndGlyphs">Day 8</text>
<text x="411.0" y="49.2" font-size="8.6" text-anchor="start" fill="#111" textLength="15.56" lengthAdjust="spacingAndGlyphs">5.57</text>
<text x="479.0" y="49.2" font-size="8.6" text-anchor="start" fill="#111" textLength="15.56" lengthAdjust="spacingAndGlyphs">52.6</text>
<text x="411.0" y="131.7" font-size="8.6" text-anchor="start" fill="#111" textLength="15.56" lengthAdjust="spacingAndGlyphs">16.1</text>
<text x="478.3" y="131.7" font-size="8.6" text-anchor="start" fill="#111" textLength="15.56" lengthAdjust="spacingAndGlyphs">25.8</text>
<g filter="url(#bl03)">
<path d="M317 205h1v1h-1zM313 209h1v1h-1zM329 209h1v1h-1zM311 210h1v1h-1zM300 211h1v1h-1zM302 213h1v1h-1zM312 213h1v1h-1zM284 216h1v1h-1zM293 216h1v1h-1zM345 219h1v1h-1zM300 223h1v1h-1zM310 225h1v1h-1zM291 229h1v1h-1zM305 229h1v1h-1zM283 231h1v1h-1zM341 232h1v1h-1zM298 234h1v1h-1zM302 234h1v1h-1zM302 236h1v1h-1zM306 240h1v1h-1zM339 240h1v1h-1zM293 244h1v1h-1zM300 244h1v1h-1zM303 247h1v1h-1zM303 249h1v1h-1zM335 249h1v1h-1zM296 250h1v1h-1zM331 251h1v1h-1zM339 251h1v1h-1zM305 253h1v1h-1zM336 255h1v1h-1zM314 260h1v1h-1zM324 261h1v1h-1zM328 262h1v1h-1zM326 265h1v1h-1z" fill="#b4b4cc"/>
<path d="M322 211h1v1h-1zM326 211h1v1h-1zM329 211h1v1h-1zM326 212h1v1h-1zM334 212h1v1h-1zM315 213h1v1h-1zM316 213h1v1h-1zM317 213h1v1h-1zM321 213h1v1h-1zM315 214h1v1h-1zM335 214h1v1h-1zM339 214h1v1h-1zM317 215h1v1h-1zM340 215h1v1h-1zM341 215h1v1h-1zM340 216h1v1h-1zM314 220h1v1h-1zM342 220h1v1h-1zM314 221h1v1h-1zM343 221h1v1h-1zM343 222h1v1h-1zM313 223h1v1h-1zM339 224h1v1h-1zM342 224h1v1h-1zM314 225h1v1h-1zM314 226h1v1h-1zM307 227h1v1h-1zM308 227h1v1h-1zM340 227h1v1h-1zM341 228h1v1h-1zM307 231h1v1h-1zM339 231h1v1h-1zM313 232h1v1h-1zM306 233h1v1h-1zM338 233h1v1h-1zM308 234h1v1h-1zM309 235h1v1h-1zM337 235h1v1h-1zM312 236h1v1h-1zM313 237h1v1h-1zM307 238h1v1h-1zM309 238h1v1h-1zM334 239h1v1h-1zM309 240h1v1h-1zM329 240h1v1h-1zM336 240h1v1h-1zM330 241h1v1h-1zM332 241h1v1h-1zM334 241h1v1h-1zM311 242h1v1h-1zM312 242h1v1h-1zM336 242h1v1h-1zM326 243h1v1h-1zM330 243h1v1h-1zM333 244h1v1h-1zM334 244h1v1h-1zM320 245h1v1h-1zM321 245h1v1h-1zM326 245h1v1h-1zM332 245h1v1h-1zM323 247h1v1h-1zM325 247h1v1h-1zM320 248h1v1h-1zM325 248h1v1h-1zM311 249h1v1h-1zM324 249h1v1h-1zM312 250h1v1h-1zM320 250h1v1h-1zM322 250h1v1h-1zM312 252h1v1h-1zM313 252h1v1h-1zM316 252h1v1h-1zM324 252h1v1h-1zM324 253h1v1h-1zM325 253h1v1h-1zM318 254h1v1h-1zM319 254h1v1h-1zM325 255h1v1h-1zM322 256h1v1h-1zM320 257h1v1h-1zM324 257h1v1h-1z" fill="#9a9abc"/>
<path d="M331 212h1v1h-1zM323 213h1v1h-1zM330 213h1v1h-1zM333 213h1v1h-1zM322 215h1v1h-1zM319 216h1v1h-1zM323 216h1v1h-1zM320 217h1v1h-1zM318 218h1v1h-1zM338 218h1v1h-1zM317 219h1v1h-1zM338 220h1v1h-1zM339 220h1v1h-1zM340 220h1v1h-1zM317 221h1v1h-1zM338 221h1v1h-1zM341 221h1v1h-1zM315 223h1v1h-1zM318 224h1v1h-1zM317 225h1v1h-1zM338 225h1v1h-1zM318 226h1v1h-1zM319 226h1v1h-1zM315 227h1v1h-1zM317 227h1v1h-1zM337 227h1v1h-1zM315 228h1v1h-1zM316 228h1v1h-1zM319 228h1v1h-1zM337 228h1v1h-1zM317 230h1v1h-1zM318 230h1v1h-1zM337 230h1v1h-1zM316 231h1v1h-1zM317 231h1v1h-1zM319 231h1v1h-1zM320 231h1v1h-1zM321 231h1v1h-1zM336 231h1v1h-1zM337 231h1v1h-1zM314 232h1v1h-1zM315 233h1v1h-1zM321 233h1v1h-1zM323 233h1v1h-1zM332 233h1v1h-1zM335 233h1v1h-1zM317 234h1v1h-1zM319 234h1v1h-1zM324 234h1v1h-1zM333 234h1v1h-1zM320 235h1v1h-1zM325 235h1v1h-1zM330 235h1v1h-1zM333 235h1v1h-1zM335 235h1v1h-1zM310 236h1v1h-1zM319 236h1v1h-1zM325 236h1v1h-1zM327 236h1v1h-1zM334 236h1v1h-1zM310 237h1v1h-1zM316 237h1v1h-1zM317 237h1v1h-1zM318 237h1v1h-1zM319 237h1v1h-1zM329 237h1v1h-1zM331 237h1v1h-1zM333 237h1v1h-1zM310 238h1v1h-1zM325 238h1v1h-1zM326 238h1v1h-1zM316 239h1v1h-1zM318 239h1v1h-1zM320 239h1v1h-1zM321 239h1v1h-1zM326 239h1v1h-1zM333 239h1v1h-1zM315 240h1v1h-1zM316 240h1v1h-1zM321 240h1v1h-1zM322 240h1v1h-1zM324 240h1v1h-1zM315 241h1v1h-1zM317 241h1v1h-1zM321 241h1v1h-1zM325 241h1v1h-1zM326 241h1v1h-1zM323 242h1v1h-1zM316 243h1v1h-1zM319 243h1v1h-1zM321 243h1v1h-1zM314 244h1v1h-1zM315 244h1v1h-1zM320 244h1v1h-1zM314 245h1v1h-1zM313 247h1v1h-1zM314 247h1v1h-1zM315 248h1v1h-1zM315 249h1v1h-1zM318 249h1v1h-1zM313 250h1v1h-1zM316 250h1v1h-1zM317 250h1v1h-1zM316 251h1v1h-1zM321 253h1v1h-1zM322 255h1v1h-1z" fill="#8488ae"/>
<path d="M328 214h1v1h-1zM330 214h1v1h-1zM326 215h1v1h-1zM328 215h1v1h-1zM330 215h1v1h-1zM332 215h1v1h-1zM325 216h1v1h-1zM326 216h1v1h-1zM327 216h1v1h-1zM332 216h1v1h-1zM333 216h1v1h-1zM334 216h1v1h-1zM322 217h1v1h-1zM325 217h1v1h-1zM326 217h1v1h-1zM334 217h1v1h-1zM335 217h1v1h-1zM319 218h1v1h-1zM321 218h1v1h-1zM322 218h1v1h-1zM323 218h1v1h-1zM324 218h1v1h-1zM326 218h1v1h-1zM334 218h1v1h-1zM318 219h1v1h-1zM320 219h1v1h-1zM321 219h1v1h-1zM322 219h1v1h-1zM323 219h1v1h-1zM334 219h1v1h-1zM335 219h1v1h-1zM318 220h1v1h-1zM322 220h1v1h-1zM323 220h1v1h-1zM335 220h1v1h-1zM318 221h1v1h-1zM319 221h1v1h-1zM321 221h1v1h-1zM323 221h1v1h-1zM335 221h1v1h-1zM336 221h1v1h-1zM318 222h1v1h-1zM319 222h1v1h-1zM321 222h1v1h-1zM322 222h1v1h-1zM335 222h1v1h-1zM337 222h1v1h-1zM320 223h1v1h-1zM321 223h1v1h-1zM335 223h1v1h-1zM320 224h1v1h-1zM321 225h1v1h-1zM322 225h1v1h-1zM322 226h1v1h-1zM335 226h1v1h-1zM336 226h1v1h-1zM322 227h1v1h-1zM323 227h1v1h-1zM333 227h1v1h-1zM335 227h1v1h-1zM336 227h1v1h-1zM333 228h1v1h-1zM320 229h1v1h-1zM322 229h1v1h-1zM329 229h1v1h-1zM330 229h1v1h-1zM331 229h1v1h-1zM332 229h1v1h-1zM334 229h1v1h-1zM336 229h1v1h-1zM319 230h1v1h-1zM320 230h1v1h-1zM321 230h1v1h-1zM322 230h1v1h-1zM326 230h1v1h-1zM328 230h1v1h-1zM329 230h1v1h-1zM330 230h1v1h-1zM333 230h1v1h-1zM334 230h1v1h-1zM324 231h1v1h-1zM325 231h1v1h-1zM326 231h1v1h-1zM327 231h1v1h-1zM328 231h1v1h-1zM329 231h1v1h-1zM332 231h1v1h-1zM335 231h1v1h-1zM324 232h1v1h-1zM325 232h1v1h-1zM326 232h1v1h-1zM328 232h1v1h-1zM331 232h1v1h-1zM332 232h1v1h-1zM335 232h1v1h-1zM325 233h1v1h-1zM326 233h1v1h-1zM327 233h1v1h-1zM328 233h1v1h-1zM333 233h1v1h-1zM334 233h1v1h-1zM326 234h1v1h-1zM327 235h1v1h-1z" fill="#7a88a4"/>
<path d="M328 216h1v1h-1zM330 216h1v1h-1zM331 216h1v1h-1zM327 217h1v1h-1zM328 217h1v1h-1zM329 217h1v1h-1zM330 217h1v1h-1zM332 217h1v1h-1zM328 218h1v1h-1zM329 218h1v1h-1zM330 218h1v1h-1zM331 218h1v1h-1zM333 218h1v1h-1zM326 219h1v1h-1zM327 219h1v1h-1zM328 219h1v1h-1zM329 219h1v1h-1zM330 219h1v1h-1zM332 219h1v1h-1zM327 220h1v1h-1zM329 220h1v1h-1zM330 220h1v1h-1zM331 220h1v1h-1zM333 220h1v1h-1zM325 221h1v1h-1zM326 221h1v1h-1zM327 221h1v1h-1zM328 221h1v1h-1zM331 221h1v1h-1zM332 221h1v1h-1zM334 221h1v1h-1zM323 222h1v1h-1zM325 222h1v1h-1zM326 222h1v1h-1zM327 222h1v1h-1zM329 222h1v1h-1zM330 222h1v1h-1zM331 222h1v1h-1zM332 222h1v1h-1zM333 222h1v1h-1zM323 223h1v1h-1zM324 223h1v1h-1zM325 223h1v1h-1zM326 223h1v1h-1zM327 223h1v1h-1zM328 223h1v1h-1zM329 223h1v1h-1zM330 223h1v1h-1zM331 223h1v1h-1zM332 223h1v1h-1zM333 223h1v1h-1zM334 223h1v1h-1zM323 224h1v1h-1zM324 224h1v1h-1zM325 224h1v1h-1zM326 224h1v1h-1zM327 224h1v1h-1zM328 224h1v1h-1zM329 224h1v1h-1zM330 224h1v1h-1zM331 224h1v1h-1zM332 224h1v1h-1zM333 224h1v1h-1zM323 225h1v1h-1zM325 225h1v1h-1zM327 225h1v1h-1zM328 225h1v1h-1zM330 225h1v1h-1zM331 225h1v1h-1zM332 225h1v1h-1zM333 225h1v1h-1zM323 226h1v1h-1zM324 226h1v1h-1zM325 226h1v1h-1zM326 226h1v1h-1zM328 226h1v1h-1zM329 226h1v1h-1zM331 226h1v1h-1zM332 226h1v1h-1zM333 226h1v1h-1zM324 227h1v1h-1zM325 227h1v1h-1zM326 227h1v1h-1zM327 227h1v1h-1zM328 227h1v1h-1zM330 227h1v1h-1zM332 227h1v1h-1zM325 228h1v1h-1zM326 228h1v1h-1zM327 228h1v1h-1zM328 228h1v1h-1zM330 228h1v1h-1zM325 229h1v1h-1zM328 229h1v1h-1z" fill="#7c90a0"/>
</g>
<rect x="275.8" y="173.7" width="106.1" height="105.7" fill="none" stroke="#111" stroke-width="1.4"/>
<line x1="323.8" y1="173.7" x2="323.8" y2="279.4" stroke="#111" stroke-width="1.3" />
<line x1="275.8" y1="227.6" x2="381.9" y2="227.6" stroke="#111" stroke-width="1.3" />
<line x1="272.8" y1="279.4" x2="275.8" y2="279.4" stroke="#111" stroke-width="1.2" />
<text x="265.4" y="283.0" font-size="8.6" text-anchor="end" fill="#111" textLength="8.80" lengthAdjust="spacingAndGlyphs">10</text>
<text x="265.4" y="278.9" font-size="5.9" fill="#111" style="stroke-width:0.18px">0</text>
<line x1="274.2" y1="272.2657240937931" x2="275.8" y2="272.2657240937931" stroke="#111" stroke-width="0.8" />
<line x1="274.2" y1="268.0924402188636" x2="275.8" y2="268.0924402188636" stroke="#111" stroke-width="0.8" />
<line x1="274.2" y1="265.13144818758616" x2="275.8" y2="265.13144818758616" stroke="#111" stroke-width="0.8" />
<line x1="274.2" y1="262.83472433670016" x2="275.8" y2="262.83472433670016" stroke="#111" stroke-width="0.8" />
<line x1="274.2" y1="260.95816431265666" x2="275.8" y2="260.95816431265666" stroke="#111" stroke-width="0.8" />
<line x1="274.2" y1="259.371555419393" x2="275.8" y2="259.371555419393" stroke="#111" stroke-width="0.8" />
<line x1="274.2" y1="257.9971722813793" x2="275.8" y2="257.9971722813793" stroke="#111" stroke-width="0.8" />
<line x1="274.2" y1="256.78488043772717" x2="275.8" y2="256.78488043772717" stroke="#111" stroke-width="0.8" />
<line x1="272.8" y1="255.70044843049325" x2="275.8" y2="255.70044843049325" stroke="#111" stroke-width="1.2" />
<text x="265.4" y="259.3" font-size="8.6" text-anchor="end" fill="#111" textLength="8.80" lengthAdjust="spacingAndGlyphs">10</text>
<text x="265.4" y="255.2" font-size="5.9" fill="#111" style="stroke-width:0.18px">1</text>
<line x1="274.2" y1="248.56617252428634" x2="275.8" y2="248.56617252428634" stroke="#111" stroke-width="0.8" />
<line x1="274.2" y1="244.39288864935685" x2="275.8" y2="244.39288864935685" stroke="#111" stroke-width="0.8" />
<line x1="274.2" y1="241.43189661807943" x2="275.8" y2="241.43189661807943" stroke="#111" stroke-width="0.8" />
<line x1="274.2" y1="239.13517276719344" x2="275.8" y2="239.13517276719344" stroke="#111" stroke-width="0.8" />
<line x1="274.2" y1="237.25861274314997" x2="275.8" y2="237.25861274314997" stroke="#111" stroke-width="0.8" />
<line x1="274.2" y1="235.67200384988632" x2="275.8" y2="235.67200384988632" stroke="#111" stroke-width="0.8" />
<line x1="274.2" y1="234.29762071187253" x2="275.8" y2="234.29762071187253" stroke="#111" stroke-width="0.8" />
<line x1="274.2" y1="233.08532886822047" x2="275.8" y2="233.08532886822047" stroke="#111" stroke-width="0.8" />
<line x1="272.8" y1="232.00089686098653" x2="275.8" y2="232.00089686098653" stroke="#111" stroke-width="1.2" />
<text x="265.4" y="235.6" font-size="8.6" text-anchor="end" fill="#111" textLength="8.80" lengthAdjust="spacingAndGlyphs">10</text>
<text x="265.4" y="231.5" font-size="5.9" fill="#111" style="stroke-width:0.18px">2</text>
<line x1="274.2" y1="224.86662095477962" x2="275.8" y2="224.86662095477962" stroke="#111" stroke-width="0.8" />
<line x1="274.2" y1="220.69333707985012" x2="275.8" y2="220.69333707985012" stroke="#111" stroke-width="0.8" />
<line x1="274.2" y1="217.7323450485727" x2="275.8" y2="217.7323450485727" stroke="#111" stroke-width="0.8" />
<line x1="274.2" y1="215.43562119768671" x2="275.8" y2="215.43562119768671" stroke="#111" stroke-width="0.8" />
<line x1="274.2" y1="213.55906117364322" x2="275.8" y2="213.55906117364322" stroke="#111" stroke-width="0.8" />
<line x1="274.2" y1="211.9724522803796" x2="275.8" y2="211.9724522803796" stroke="#111" stroke-width="0.8" />
<line x1="274.2" y1="210.5980691423658" x2="275.8" y2="210.5980691423658" stroke="#111" stroke-width="0.8" />
<line x1="274.2" y1="209.38577729871375" x2="275.8" y2="209.38577729871375" stroke="#111" stroke-width="0.8" />
<line x1="272.8" y1="208.3013452914798" x2="275.8" y2="208.3013452914798" stroke="#111" stroke-width="1.2" />
<text x="265.4" y="211.9" font-size="8.6" text-anchor="end" fill="#111" textLength="8.80" lengthAdjust="spacingAndGlyphs">10</text>
<text x="265.4" y="207.8" font-size="5.9" fill="#111" style="stroke-width:0.18px">3</text>
<line x1="274.2" y1="201.1670693852729" x2="275.8" y2="201.1670693852729" stroke="#111" stroke-width="0.8" />
<line x1="274.2" y1="196.9937855103434" x2="275.8" y2="196.9937855103434" stroke="#111" stroke-width="0.8" />
<line x1="274.2" y1="194.032793479066" x2="275.8" y2="194.032793479066" stroke="#111" stroke-width="0.8" />
<line x1="274.2" y1="191.73606962818" x2="275.8" y2="191.73606962818" stroke="#111" stroke-width="0.8" />
<line x1="274.2" y1="189.85950960413652" x2="275.8" y2="189.85950960413652" stroke="#111" stroke-width="0.8" />
<line x1="274.2" y1="188.27290071087288" x2="275.8" y2="188.27290071087288" stroke="#111" stroke-width="0.8" />
<line x1="274.2" y1="186.89851757285908" x2="275.8" y2="186.89851757285908" stroke="#111" stroke-width="0.8" />
<line x1="274.2" y1="185.68622572920702" x2="275.8" y2="185.68622572920702" stroke="#111" stroke-width="0.8" />
<line x1="272.8" y1="184.60179372197308" x2="275.8" y2="184.60179372197308" stroke="#111" stroke-width="1.2" />
<text x="265.4" y="188.2" font-size="8.6" text-anchor="end" fill="#111" textLength="8.80" lengthAdjust="spacingAndGlyphs">10</text>
<text x="265.4" y="184.1" font-size="5.9" fill="#111" style="stroke-width:0.18px">4</text>
<line x1="274.2" y1="177.46751781576617" x2="275.8" y2="177.46751781576617" stroke="#111" stroke-width="0.8" />
<line x1="275.8" y1="279.4" x2="275.8" y2="282.4" stroke="#111" stroke-width="1.2" />
<text x="278.4" y="293.3" font-size="8.6" text-anchor="end" fill="#111" textLength="8.80" lengthAdjust="spacingAndGlyphs">10</text>
<text x="278.4" y="289.7" font-size="5.9" fill="#111" style="stroke-width:0.18px">0</text>
<line x1="281.649685446877" y1="279.4" x2="281.649685446877" y2="281.0" stroke="#111" stroke-width="0.8" />
<line x1="285.07153207431435" y1="279.4" x2="285.07153207431435" y2="281.0" stroke="#111" stroke-width="0.8" />
<line x1="287.499370893754" y1="279.4" x2="287.499370893754" y2="281.0" stroke="#111" stroke-width="0.8" />
<line x1="289.38254898535746" y1="279.4" x2="289.38254898535746" y2="281.0" stroke="#111" stroke-width="0.8" />
<line x1="290.92121752119135" y1="279.4" x2="290.92121752119135" y2="281.0" stroke="#111" stroke-width="0.8" />
<line x1="292.2221432317789" y1="279.4" x2="292.2221432317789" y2="281.0" stroke="#111" stroke-width="0.8" />
<line x1="293.349056340631" y1="279.4" x2="293.349056340631" y2="281.0" stroke="#111" stroke-width="0.8" />
<line x1="294.3430641486286" y1="279.4" x2="294.3430641486286" y2="281.0" stroke="#111" stroke-width="0.8" />
<line x1="295.23223443223446" y1="279.4" x2="295.23223443223446" y2="282.4" stroke="#111" stroke-width="1.2" />
<text x="297.8" y="293.3" font-size="8.6" text-anchor="end" fill="#111" textLength="8.80" lengthAdjust="spacingAndGlyphs">10</text>
<text x="297.8" y="289.7" font-size="5.9" fill="#111" style="stroke-width:0.18px">1</text>
<line x1="301.08191987911147" y1="279.4" x2="301.08191987911147" y2="281.0" stroke="#111" stroke-width="0.8" />
<line x1="304.5037665065488" y1="279.4" x2="304.5037665065488" y2="281.0" stroke="#111" stroke-width="0.8" />
<line x1="306.93160532598847" y1="279.4" x2="306.93160532598847" y2="281.0" stroke="#111" stroke-width="0.8" />
<line x1="308.8147834175919" y1="279.4" x2="308.8147834175919" y2="281.0" stroke="#111" stroke-width="0.8" />
<line x1="310.35345195342575" y1="279.4" x2="310.35345195342575" y2="281.0" stroke="#111" stroke-width="0.8" />
<line x1="311.65437766401334" y1="279.4" x2="311.65437766401334" y2="281.0" stroke="#111" stroke-width="0.8" />
<line x1="312.7812907728655" y1="279.4" x2="312.7812907728655" y2="281.0" stroke="#111" stroke-width="0.8" />
<line x1="313.7752985808631" y1="279.4" x2="313.7752985808631" y2="281.0" stroke="#111" stroke-width="0.8" />
<line x1="314.66446886446886" y1="279.4" x2="314.66446886446886" y2="282.4" stroke="#111" stroke-width="1.2" />
<text x="317.3" y="293.3" font-size="8.6" text-anchor="end" fill="#111" textLength="8.80" lengthAdjust="spacingAndGlyphs">10</text>
<text x="317.3" y="289.7" font-size="5.9" fill="#111" style="stroke-width:0.18px">2</text>
<line x1="320.51415431134586" y1="279.4" x2="320.51415431134586" y2="281.0" stroke="#111" stroke-width="0.8" />
<line x1="323.9360009387832" y1="279.4" x2="323.9360009387832" y2="281.0" stroke="#111" stroke-width="0.8" />
<line x1="326.36383975822287" y1="279.4" x2="326.36383975822287" y2="281.0" stroke="#111" stroke-width="0.8" />
<line x1="328.2470178498263" y1="279.4" x2="328.2470178498263" y2="281.0" stroke="#111" stroke-width="0.8" />
<line x1="329.78568638566014" y1="279.4" x2="329.78568638566014" y2="281.0" stroke="#111" stroke-width="0.8" />
<line x1="331.08661209624773" y1="279.4" x2="331.08661209624773" y2="281.0" stroke="#111" stroke-width="0.8" />
<line x1="332.21352520509987" y1="279.4" x2="332.21352520509987" y2="281.0" stroke="#111" stroke-width="0.8" />
<line x1="333.2075330130975" y1="279.4" x2="333.2075330130975" y2="281.0" stroke="#111" stroke-width="0.8" />
<line x1="334.0967032967033" y1="279.4" x2="334.0967032967033" y2="282.4" stroke="#111" stroke-width="1.2" />
<text x="336.7" y="293.3" font-size="8.6" text-anchor="end" fill="#111" textLength="8.80" lengthAdjust="spacingAndGlyphs">10</text>
<text x="336.7" y="289.7" font-size="5.9" fill="#111" style="stroke-width:0.18px">3</text>
<line x1="339.9463887435803" y1="279.4" x2="339.9463887435803" y2="281.0" stroke="#111" stroke-width="0.8" />
<line x1="343.36823537101765" y1="279.4" x2="343.36823537101765" y2="281.0" stroke="#111" stroke-width="0.8" />
<line x1="345.7960741904573" y1="279.4" x2="345.7960741904573" y2="281.0" stroke="#111" stroke-width="0.8" />
<line x1="347.67925228206076" y1="279.4" x2="347.67925228206076" y2="281.0" stroke="#111" stroke-width="0.8" />
<line x1="349.21792081789465" y1="279.4" x2="349.21792081789465" y2="281.0" stroke="#111" stroke-width="0.8" />
<line x1="350.5188465284822" y1="279.4" x2="350.5188465284822" y2="281.0" stroke="#111" stroke-width="0.8" />
<line x1="351.6457596373343" y1="279.4" x2="351.6457596373343" y2="281.0" stroke="#111" stroke-width="0.8" />
<line x1="352.6397674453319" y1="279.4" x2="352.6397674453319" y2="281.0" stroke="#111" stroke-width="0.8" />
<line x1="353.5289377289377" y1="279.4" x2="353.5289377289377" y2="282.4" stroke="#111" stroke-width="1.2" />
<text x="356.1" y="293.3" font-size="8.6" text-anchor="end" fill="#111" textLength="8.80" lengthAdjust="spacingAndGlyphs">10</text>
<text x="356.1" y="289.7" font-size="5.9" fill="#111" style="stroke-width:0.18px">4</text>
<line x1="359.3786231758147" y1="279.4" x2="359.3786231758147" y2="281.0" stroke="#111" stroke-width="0.8" />
<line x1="362.80046980325204" y1="279.4" x2="362.80046980325204" y2="281.0" stroke="#111" stroke-width="0.8" />
<line x1="365.2283086226917" y1="279.4" x2="365.2283086226917" y2="281.0" stroke="#111" stroke-width="0.8" />
<line x1="367.11148671429515" y1="279.4" x2="367.11148671429515" y2="281.0" stroke="#111" stroke-width="0.8" />
<line x1="368.65015525012905" y1="279.4" x2="368.65015525012905" y2="281.0" stroke="#111" stroke-width="0.8" />
<line x1="369.9510809607166" y1="279.4" x2="369.9510809607166" y2="281.0" stroke="#111" stroke-width="0.8" />
<line x1="371.0779940695687" y1="279.4" x2="371.0779940695687" y2="281.0" stroke="#111" stroke-width="0.8" />
<line x1="372.0720018775663" y1="279.4" x2="372.0720018775663" y2="281.0" stroke="#111" stroke-width="0.8" />
<line x1="372.96117216117216" y1="279.4" x2="372.96117216117216" y2="282.4" stroke="#111" stroke-width="1.2" />
<text x="375.6" y="293.3" font-size="8.6" text-anchor="end" fill="#111" textLength="8.80" lengthAdjust="spacingAndGlyphs">10</text>
<text x="375.6" y="289.7" font-size="5.9" fill="#111" style="stroke-width:0.18px">5</text>
<text x="328.5" y="168.2" font-size="10.8" text-anchor="middle" fill="#111" textLength="32.68" lengthAdjust="spacingAndGlyphs">Day 13</text>
<text x="279.6" y="188.4" font-size="8.6" text-anchor="start" fill="#111" textLength="14.97" lengthAdjust="spacingAndGlyphs">11.9</text>
<text x="346.8" y="188.4" font-size="8.6" text-anchor="start" fill="#111" textLength="15.56" lengthAdjust="spacingAndGlyphs">24.8</text>
<text x="279.5" y="271.5" font-size="8.6" text-anchor="start" fill="#111" textLength="15.56" lengthAdjust="spacingAndGlyphs">43.6</text>
<text x="347.3" y="271.5" font-size="8.6" text-anchor="start" fill="#111" textLength="15.56" lengthAdjust="spacingAndGlyphs">19.8</text>
<g filter="url(#bl03)">
<path d="M433 211h1v1h-1zM439 214h1v1h-1zM438 215h1v1h-1zM446 216h1v1h-1zM452 216h1v1h-1zM448 217h1v1h-1zM466 218h1v1h-1zM456 222h1v1h-1zM464 225h1v1h-1zM428 226h1v1h-1zM431 235h1v1h-1zM425 238h1v1h-1zM465 241h1v1h-1zM422 242h1v1h-1zM426 243h1v1h-1zM424 244h1v1h-1zM428 247h1v1h-1zM464 248h1v1h-1zM429 251h1v1h-1zM460 251h1v1h-1zM426 252h1v1h-1zM451 252h1v1h-1zM469 252h1v1h-1zM428 253h1v1h-1zM466 253h1v1h-1zM430 255h1v1h-1zM450 255h1v1h-1zM466 257h1v1h-1zM422 258h1v1h-1zM428 261h1v1h-1zM454 261h1v1h-1zM436 262h1v1h-1zM444 265h1v1h-1zM472 265h1v1h-1zM441 266h1v1h-1zM447 267h1v1h-1zM411 269h1v1h-1zM456 269h1v1h-1zM417 270h1v1h-1zM429 276h1v1h-1z" fill="#a0a0d4"/>
<path d="M440 219h1v1h-1zM438 220h1v1h-1zM440 220h1v1h-1zM443 220h1v1h-1zM444 220h1v1h-1zM437 221h1v1h-1zM438 221h1v1h-1zM445 221h1v1h-1zM447 221h1v1h-1zM440 222h1v1h-1zM452 222h1v1h-1zM438 223h1v1h-1zM436 224h1v1h-1zM440 224h1v1h-1zM433 226h1v1h-1zM434 226h1v1h-1zM434 228h1v1h-1zM440 228h1v1h-1zM439 229h1v1h-1zM436 230h1v1h-1zM437 230h1v1h-1zM437 233h1v1h-1zM438 233h1v1h-1zM435 235h1v1h-1zM436 235h1v1h-1zM428 237h1v1h-1zM434 237h1v1h-1zM433 238h1v1h-1zM461 238h1v1h-1zM429 239h1v1h-1zM438 239h1v1h-1zM423 240h1v1h-1zM424 240h1v1h-1zM429 240h1v1h-1zM432 240h1v1h-1zM438 240h1v1h-1zM460 240h1v1h-1zM462 240h1v1h-1zM432 241h1v1h-1zM439 241h1v1h-1zM464 241h1v1h-1zM461 242h1v1h-1zM461 243h1v1h-1zM462 244h1v1h-1zM433 245h1v1h-1zM461 245h1v1h-1zM458 246h1v1h-1zM431 247h1v1h-1zM456 247h1v1h-1zM455 248h1v1h-1zM459 248h1v1h-1zM434 249h1v1h-1zM448 249h1v1h-1zM450 249h1v1h-1zM457 250h1v1h-1zM434 251h1v1h-1zM435 251h1v1h-1zM454 251h1v1h-1zM435 252h1v1h-1zM455 252h1v1h-1zM432 253h1v1h-1zM435 253h1v1h-1zM436 253h1v1h-1zM438 253h1v1h-1zM434 254h1v1h-1zM446 254h1v1h-1zM455 254h1v1h-1zM456 254h1v1h-1zM458 254h1v1h-1zM445 255h1v1h-1zM456 255h1v1h-1zM438 256h1v1h-1zM444 256h1v1h-1zM445 256h1v1h-1zM436 257h1v1h-1zM440 257h1v1h-1zM445 257h1v1h-1zM440 258h1v1h-1zM446 258h1v1h-1zM438 259h1v1h-1zM448 259h1v1h-1zM453 259h1v1h-1zM438 260h1v1h-1zM440 260h1v1h-1zM443 260h1v1h-1zM445 260h1v1h-1zM446 260h1v1h-1zM439 261h1v1h-1zM442 261h1v1h-1zM441 263h1v1h-1zM445 263h1v1h-1zM449 264h1v1h-1zM450 264h1v1h-1zM450 265h1v1h-1z" fill="#8484c8"/>
<path d="M442 222h1v1h-1zM443 222h1v1h-1zM443 223h1v1h-1zM447 223h1v1h-1zM448 223h1v1h-1zM449 223h1v1h-1zM452 223h1v1h-1zM444 224h1v1h-1zM446 224h1v1h-1zM447 224h1v1h-1zM448 224h1v1h-1zM450 224h1v1h-1zM441 225h1v1h-1zM442 225h1v1h-1zM445 225h1v1h-1zM446 225h1v1h-1zM447 225h1v1h-1zM449 225h1v1h-1zM452 225h1v1h-1zM453 225h1v1h-1zM454 225h1v1h-1zM455 225h1v1h-1zM456 225h1v1h-1zM444 226h1v1h-1zM445 226h1v1h-1zM446 226h1v1h-1zM447 226h1v1h-1zM448 226h1v1h-1zM451 226h1v1h-1zM452 226h1v1h-1zM453 226h1v1h-1zM457 226h1v1h-1zM441 227h1v1h-1zM442 227h1v1h-1zM444 227h1v1h-1zM446 227h1v1h-1zM448 227h1v1h-1zM449 227h1v1h-1zM453 227h1v1h-1zM455 227h1v1h-1zM456 227h1v1h-1zM457 227h1v1h-1zM443 228h1v1h-1zM444 228h1v1h-1zM445 228h1v1h-1zM455 228h1v1h-1zM457 228h1v1h-1zM443 229h1v1h-1zM444 229h1v1h-1zM456 229h1v1h-1zM440 230h1v1h-1zM442 230h1v1h-1zM443 230h1v1h-1zM444 230h1v1h-1zM441 231h1v1h-1zM443 231h1v1h-1zM444 231h1v1h-1zM457 231h1v1h-1zM440 232h1v1h-1zM441 232h1v1h-1zM442 232h1v1h-1zM443 232h1v1h-1zM444 232h1v1h-1zM456 232h1v1h-1zM457 232h1v1h-1zM442 233h1v1h-1zM443 233h1v1h-1zM444 233h1v1h-1zM456 233h1v1h-1zM459 233h1v1h-1zM441 234h1v1h-1zM445 234h1v1h-1zM457 234h1v1h-1zM458 234h1v1h-1zM459 234h1v1h-1zM439 235h1v1h-1zM442 235h1v1h-1zM445 235h1v1h-1zM456 235h1v1h-1zM457 235h1v1h-1zM458 235h1v1h-1zM459 235h1v1h-1zM440 236h1v1h-1zM441 236h1v1h-1zM442 236h1v1h-1zM444 236h1v1h-1zM445 236h1v1h-1zM456 236h1v1h-1zM457 236h1v1h-1zM440 237h1v1h-1zM441 237h1v1h-1zM443 237h1v1h-1zM444 237h1v1h-1zM445 237h1v1h-1zM446 237h1v1h-1zM455 237h1v1h-1zM456 237h1v1h-1zM457 237h1v1h-1zM459 237h1v1h-1zM436 238h1v1h-1zM437 238h1v1h-1zM444 238h1v1h-1zM445 238h1v1h-1zM446 238h1v1h-1zM447 238h1v1h-1zM455 238h1v1h-1zM456 238h1v1h-1zM435 239h1v1h-1zM445 239h1v1h-1zM446 239h1v1h-1zM447 239h1v1h-1zM448 239h1v1h-1zM455 239h1v1h-1zM456 239h1v1h-1zM457 239h1v1h-1zM435 240h1v1h-1zM443 240h1v1h-1zM445 240h1v1h-1zM449 240h1v1h-1zM454 240h1v1h-1zM455 240h1v1h-1zM456 240h1v1h-1zM457 240h1v1h-1zM433 241h1v1h-1zM435 241h1v1h-1zM442 241h1v1h-1zM444 241h1v1h-1zM445 241h1v1h-1zM447 241h1v1h-1zM448 241h1v1h-1zM450 241h1v1h-1zM453 241h1v1h-1zM455 241h1v1h-1zM456 241h1v1h-1zM458 241h1v1h-1zM433 242h1v1h-1zM435 242h1v1h-1zM436 242h1v1h-1zM439 242h1v1h-1zM442 242h1v1h-1zM446 242h1v1h-1zM448 242h1v1h-1zM449 242h1v1h-1zM450 242h1v1h-1zM452 242h1v1h-1zM453 242h1v1h-1zM454 242h1v1h-1zM455 242h1v1h-1zM456 242h1v1h-1zM457 242h1v1h-1zM435 243h1v1h-1zM436 243h1v1h-1zM437 243h1v1h-1zM440 243h1v1h-1zM441 243h1v1h-1zM444 243h1v1h-1zM447 243h1v1h-1zM448 243h1v1h-1zM449 243h1v1h-1zM450 243h1v1h-1zM451 243h1v1h-1zM453 243h1v1h-1zM454 243h1v1h-1zM455 243h1v1h-1zM457 243h1v1h-1zM458 243h1v1h-1zM460 243h1v1h-1zM439 244h1v1h-1zM443 244h1v1h-1zM444 244h1v1h-1zM445 244h1v1h-1zM446 244h1v1h-1zM449 244h1v1h-1zM451 244h1v1h-1zM452 244h1v1h-1zM453 244h1v1h-1zM454 244h1v1h-1zM455 244h1v1h-1zM456 244h1v1h-1zM458 244h1v1h-1zM436 245h1v1h-1zM438 245h1v1h-1zM439 245h1v1h-1zM441 245h1v1h-1zM443 245h1v1h-1zM445 245h1v1h-1zM447 245h1v1h-1zM448 245h1v1h-1zM449 245h1v1h-1zM450 245h1v1h-1zM451 245h1v1h-1zM453 245h1v1h-1zM434 246h1v1h-1zM439 246h1v1h-1zM442 246h1v1h-1zM443 246h1v1h-1zM452 246h1v1h-1zM435 247h1v1h-1zM436 247h1v1h-1zM438 247h1v1h-1zM443 247h1v1h-1zM445 247h1v1h-1zM446 247h1v1h-1zM447 247h1v1h-1zM450 247h1v1h-1zM451 247h1v1h-1zM452 247h1v1h-1zM454 247h1v1h-1zM434 248h1v1h-1zM435 248h1v1h-1zM438 248h1v1h-1zM441 248h1v1h-1zM442 248h1v1h-1zM443 248h1v1h-1zM444 248h1v1h-1zM445 248h1v1h-1zM447 248h1v1h-1zM448 248h1v1h-1zM449 248h1v1h-1zM450 248h1v1h-1zM437 249h1v1h-1zM439 249h1v1h-1zM441 250h1v1h-1zM442 250h1v1h-1zM443 250h1v1h-1zM440 251h1v1h-1zM440 252h1v1h-1zM442 252h1v1h-1zM444 252h1v1h-1zM439 253h1v1h-1zM441 253h1v1h-1zM444 253h1v1h-1zM445 253h1v1h-1zM439 254h1v1h-1zM440 254h1v1h-1zM441 254h1v1h-1zM442 254h1v1h-1z" fill="#6e72b8"/>
<path d="M446 228h1v1h-1zM447 228h1v1h-1zM448 228h1v1h-1zM450 228h1v1h-1zM451 228h1v1h-1zM452 228h1v1h-1zM454 228h1v1h-1zM446 229h1v1h-1zM447 229h1v1h-1zM448 229h1v1h-1zM449 229h1v1h-1zM450 229h1v1h-1zM451 229h1v1h-1zM452 229h1v1h-1zM454 229h1v1h-1zM445 230h1v1h-1zM447 230h1v1h-1zM448 230h1v1h-1zM454 230h1v1h-1zM455 230h1v1h-1zM445 231h1v1h-1zM446 231h1v1h-1zM447 231h1v1h-1zM448 231h1v1h-1zM454 231h1v1h-1zM455 231h1v1h-1zM445 232h1v1h-1zM446 232h1v1h-1zM455 232h1v1h-1zM445 233h1v1h-1zM446 233h1v1h-1zM447 233h1v1h-1zM448 233h1v1h-1zM454 233h1v1h-1zM455 233h1v1h-1zM446 234h1v1h-1zM447 234h1v1h-1zM448 234h1v1h-1zM454 234h1v1h-1zM455 234h1v1h-1zM446 235h1v1h-1zM447 235h1v1h-1zM448 235h1v1h-1zM449 235h1v1h-1zM454 235h1v1h-1zM455 235h1v1h-1zM446 236h1v1h-1zM447 236h1v1h-1zM448 236h1v1h-1zM449 236h1v1h-1zM450 236h1v1h-1zM453 236h1v1h-1zM454 236h1v1h-1zM455 236h1v1h-1zM447 237h1v1h-1zM449 237h1v1h-1zM450 237h1v1h-1zM451 237h1v1h-1zM452 237h1v1h-1zM453 237h1v1h-1zM454 237h1v1h-1zM448 238h1v1h-1zM449 238h1v1h-1zM450 238h1v1h-1zM451 238h1v1h-1zM452 238h1v1h-1zM453 238h1v1h-1zM454 238h1v1h-1zM449 239h1v1h-1zM450 239h1v1h-1zM451 239h1v1h-1zM452 239h1v1h-1zM453 239h1v1h-1zM450 240h1v1h-1zM451 240h1v1h-1zM452 240h1v1h-1zM453 240h1v1h-1zM451 241h1v1h-1zM452 241h1v1h-1z" fill="#5a7aa8"/>
<path d="M450 230h1v1h-1zM451 230h1v1h-1zM452 230h1v1h-1zM453 230h1v1h-1zM449 231h1v1h-1zM450 231h1v1h-1zM453 231h1v1h-1zM448 232h1v1h-1zM449 232h1v1h-1zM450 232h1v1h-1zM453 232h1v1h-1zM454 232h1v1h-1zM449 233h1v1h-1zM450 233h1v1h-1zM451 233h1v1h-1zM453 233h1v1h-1zM449 234h1v1h-1zM450 234h1v1h-1zM451 234h1v1h-1zM452 234h1v1h-1zM453 234h1v1h-1zM450 235h1v1h-1zM451 235h1v1h-1zM452 235h1v1h-1zM453 235h1v1h-1zM451 236h1v1h-1zM452 236h1v1h-1z" fill="#8aa860"/>
<path d="M451 231h1v1h-1zM452 231h1v1h-1zM451 232h1v1h-1zM452 232h1v1h-1zM452 233h1v1h-1z" fill="#b8c840"/>
</g>
<rect x="408.5" y="175.6" width="103.5" height="104.0" fill="none" stroke="#111" stroke-width="1.4"/>
<line x1="455.3" y1="175.6" x2="455.3" y2="279.6" stroke="#111" stroke-width="1.3" />
<line x1="408.5" y1="228.8" x2="512.0" y2="228.8" stroke="#111" stroke-width="1.3" />
<line x1="405.5" y1="279.6" x2="408.5" y2="279.6" stroke="#111" stroke-width="1.2" />
<text x="398.1" y="283.2" font-size="8.6" text-anchor="end" fill="#111" textLength="8.80" lengthAdjust="spacingAndGlyphs">10</text>
<text x="398.1" y="279.1" font-size="5.9" fill="#111" style="stroke-width:0.18px">0</text>
<line x1="406.9" y1="272.580466468822" x2="408.5" y2="272.580466468822" stroke="#111" stroke-width="0.8" />
<line x1="406.9" y1="268.47430258052805" x2="408.5" y2="268.47430258052805" stroke="#111" stroke-width="0.8" />
<line x1="406.9" y1="265.56093293764394" x2="408.5" y2="265.56093293764394" stroke="#111" stroke-width="0.8" />
<line x1="406.9" y1="263.30114788095386" x2="408.5" y2="263.30114788095386" stroke="#111" stroke-width="0.8" />
<line x1="406.9" y1="261.45476904935003" x2="408.5" y2="261.45476904935003" stroke="#111" stroke-width="0.8" />
<line x1="406.9" y1="259.89367799069896" x2="408.5" y2="259.89367799069896" stroke="#111" stroke-width="0.8" />
<line x1="406.9" y1="258.5413994064659" x2="408.5" y2="258.5413994064659" stroke="#111" stroke-width="0.8" />
<line x1="406.9" y1="257.3486051610561" x2="408.5" y2="257.3486051610561" stroke="#111" stroke-width="0.8" />
<line x1="405.5" y1="256.2816143497758" x2="408.5" y2="256.2816143497758" stroke="#111" stroke-width="1.2" />
<text x="398.1" y="259.9" font-size="8.6" text-anchor="end" fill="#111" textLength="8.80" lengthAdjust="spacingAndGlyphs">10</text>
<text x="398.1" y="255.8" font-size="5.9" fill="#111" style="stroke-width:0.18px">1</text>
<line x1="406.9" y1="249.26208081859775" x2="408.5" y2="249.26208081859775" stroke="#111" stroke-width="0.8" />
<line x1="406.9" y1="245.15591693030385" x2="408.5" y2="245.15591693030385" stroke="#111" stroke-width="0.8" />
<line x1="406.9" y1="242.2425472874197" x2="408.5" y2="242.2425472874197" stroke="#111" stroke-width="0.8" />
<line x1="406.9" y1="239.9827622307296" x2="408.5" y2="239.9827622307296" stroke="#111" stroke-width="0.8" />
<line x1="406.9" y1="238.1363833991258" x2="408.5" y2="238.1363833991258" stroke="#111" stroke-width="0.8" />
<line x1="406.9" y1="236.57529234047473" x2="408.5" y2="236.57529234047473" stroke="#111" stroke-width="0.8" />
<line x1="406.9" y1="235.22301375624167" x2="408.5" y2="235.22301375624167" stroke="#111" stroke-width="0.8" />
<line x1="406.9" y1="234.0302195108319" x2="408.5" y2="234.0302195108319" stroke="#111" stroke-width="0.8" />
<line x1="405.5" y1="232.96322869955156" x2="408.5" y2="232.96322869955156" stroke="#111" stroke-width="1.2" />
<text x="398.1" y="236.6" font-size="8.6" text-anchor="end" fill="#111" textLength="8.80" lengthAdjust="spacingAndGlyphs">10</text>
<text x="398.1" y="232.5" font-size="5.9" fill="#111" style="stroke-width:0.18px">2</text>
<line x1="406.9" y1="225.94369516837352" x2="408.5" y2="225.94369516837352" stroke="#111" stroke-width="0.8" />
<line x1="406.9" y1="221.83753128007962" x2="408.5" y2="221.83753128007962" stroke="#111" stroke-width="0.8" />
<line x1="406.9" y1="218.92416163719548" x2="408.5" y2="218.92416163719548" stroke="#111" stroke-width="0.8" />
<line x1="406.9" y1="216.66437658050538" x2="408.5" y2="216.66437658050538" stroke="#111" stroke-width="0.8" />
<line x1="406.9" y1="214.81799774890158" x2="408.5" y2="214.81799774890158" stroke="#111" stroke-width="0.8" />
<line x1="406.9" y1="213.2569066902505" x2="408.5" y2="213.2569066902505" stroke="#111" stroke-width="0.8" />
<line x1="406.9" y1="211.90462810601744" x2="408.5" y2="211.90462810601744" stroke="#111" stroke-width="0.8" />
<line x1="406.9" y1="210.71183386060767" x2="408.5" y2="210.71183386060767" stroke="#111" stroke-width="0.8" />
<line x1="405.5" y1="209.64484304932736" x2="408.5" y2="209.64484304932736" stroke="#111" stroke-width="1.2" />
<text x="398.1" y="213.2" font-size="8.6" text-anchor="end" fill="#111" textLength="8.80" lengthAdjust="spacingAndGlyphs">10</text>
<text x="398.1" y="209.1" font-size="5.9" fill="#111" style="stroke-width:0.18px">3</text>
<line x1="406.9" y1="202.62530951814932" x2="408.5" y2="202.62530951814932" stroke="#111" stroke-width="0.8" />
<line x1="406.9" y1="198.51914562985542" x2="408.5" y2="198.51914562985542" stroke="#111" stroke-width="0.8" />
<line x1="406.9" y1="195.60577598697128" x2="408.5" y2="195.60577598697128" stroke="#111" stroke-width="0.8" />
<line x1="406.9" y1="193.34599093028118" x2="408.5" y2="193.34599093028118" stroke="#111" stroke-width="0.8" />
<line x1="406.9" y1="191.49961209867737" x2="408.5" y2="191.49961209867737" stroke="#111" stroke-width="0.8" />
<line x1="406.9" y1="189.9385210400263" x2="408.5" y2="189.9385210400263" stroke="#111" stroke-width="0.8" />
<line x1="406.9" y1="188.58624245579324" x2="408.5" y2="188.58624245579324" stroke="#111" stroke-width="0.8" />
<line x1="406.9" y1="187.39344821038347" x2="408.5" y2="187.39344821038347" stroke="#111" stroke-width="0.8" />
<line x1="405.5" y1="186.32645739910313" x2="408.5" y2="186.32645739910313" stroke="#111" stroke-width="1.2" />
<text x="398.1" y="189.9" font-size="8.6" text-anchor="end" fill="#111" textLength="8.80" lengthAdjust="spacingAndGlyphs">10</text>
<text x="398.1" y="185.8" font-size="5.9" fill="#111" style="stroke-width:0.18px">4</text>
<line x1="406.9" y1="179.3069238679251" x2="408.5" y2="179.3069238679251" stroke="#111" stroke-width="0.8" />
<line x1="408.5" y1="279.6" x2="408.5" y2="282.6" stroke="#111" stroke-width="1.2" />
<text x="411.1" y="293.5" font-size="8.6" text-anchor="end" fill="#111" textLength="8.80" lengthAdjust="spacingAndGlyphs">10</text>
<text x="411.1" y="289.9" font-size="5.9" fill="#111" style="stroke-width:0.18px">0</text>
<line x1="414.20633782989415" y1="279.6" x2="414.20633782989415" y2="281.20000000000005" stroke="#111" stroke-width="0.8" />
<line x1="417.54433147682875" y1="279.6" x2="417.54433147682875" y2="281.20000000000005" stroke="#111" stroke-width="0.8" />
<line x1="419.9126756597883" y1="279.6" x2="419.9126756597883" y2="281.20000000000005" stroke="#111" stroke-width="0.8" />
<line x1="421.7497061261498" y1="279.6" x2="421.7497061261498" y2="281.20000000000005" stroke="#111" stroke-width="0.8" />
<line x1="423.2506693067229" y1="279.6" x2="423.2506693067229" y2="281.20000000000005" stroke="#111" stroke-width="0.8" />
<line x1="424.51971559367684" y1="279.6" x2="424.51971559367684" y2="281.20000000000005" stroke="#111" stroke-width="0.8" />
<line x1="425.61901348968246" y1="279.6" x2="425.61901348968246" y2="281.20000000000005" stroke="#111" stroke-width="0.8" />
<line x1="426.58866295365755" y1="279.6" x2="426.58866295365755" y2="281.20000000000005" stroke="#111" stroke-width="0.8" />
<line x1="427.45604395604397" y1="279.6" x2="427.45604395604397" y2="282.6" stroke="#111" stroke-width="1.2" />
<text x="430.1" y="293.5" font-size="8.6" text-anchor="end" fill="#111" textLength="8.80" lengthAdjust="spacingAndGlyphs">10</text>
<text x="430.1" y="289.9" font-size="5.9" fill="#111" style="stroke-width:0.18px">1</text>
<line x1="433.1623817859381" y1="279.6" x2="433.1623817859381" y2="281.20000000000005" stroke="#111" stroke-width="0.8" />
<line x1="436.5003754328727" y1="279.6" x2="436.5003754328727" y2="281.20000000000005" stroke="#111" stroke-width="0.8" />
<line x1="438.8687196158323" y1="279.6" x2="438.8687196158323" y2="281.20000000000005" stroke="#111" stroke-width="0.8" />
<line x1="440.7057500821938" y1="279.6" x2="440.7057500821938" y2="281.20000000000005" stroke="#111" stroke-width="0.8" />
<line x1="442.20671326276687" y1="279.6" x2="442.20671326276687" y2="281.20000000000005" stroke="#111" stroke-width="0.8" />
<line x1="443.4757595497208" y1="279.6" x2="443.4757595497208" y2="281.20000000000005" stroke="#111" stroke-width="0.8" />
<line x1="444.57505744572643" y1="279.6" x2="444.57505744572643" y2="281.20000000000005" stroke="#111" stroke-width="0.8" />
<line x1="445.5447069097015" y1="279.6" x2="445.5447069097015" y2="281.20000000000005" stroke="#111" stroke-width="0.8" />
<line x1="446.41208791208794" y1="279.6" x2="446.41208791208794" y2="282.6" stroke="#111" stroke-width="1.2" />
<text x="449.0" y="293.5" font-size="8.6" text-anchor="end" fill="#111" textLength="8.80" lengthAdjust="spacingAndGlyphs">10</text>
<text x="449.0" y="289.9" font-size="5.9" fill="#111" style="stroke-width:0.18px">2</text>
<line x1="452.1184257419821" y1="279.6" x2="452.1184257419821" y2="281.20000000000005" stroke="#111" stroke-width="0.8" />
<line x1="455.4564193889167" y1="279.6" x2="455.4564193889167" y2="281.20000000000005" stroke="#111" stroke-width="0.8" />
<line x1="457.82476357187625" y1="279.6" x2="457.82476357187625" y2="281.20000000000005" stroke="#111" stroke-width="0.8" />
<line x1="459.66179403823776" y1="279.6" x2="459.66179403823776" y2="281.20000000000005" stroke="#111" stroke-width="0.8" />
<line x1="461.16275721881084" y1="279.6" x2="461.16275721881084" y2="281.20000000000005" stroke="#111" stroke-width="0.8" />
<line x1="462.4318035057648" y1="279.6" x2="462.4318035057648" y2="281.20000000000005" stroke="#111" stroke-width="0.8" />
<line x1="463.5311014017704" y1="279.6" x2="463.5311014017704" y2="281.20000000000005" stroke="#111" stroke-width="0.8" />
<line x1="464.5007508657455" y1="279.6" x2="464.5007508657455" y2="281.20000000000005" stroke="#111" stroke-width="0.8" />
<line x1="465.36813186813185" y1="279.6" x2="465.36813186813185" y2="282.6" stroke="#111" stroke-width="1.2" />
<text x="468.0" y="293.5" font-size="8.6" text-anchor="end" fill="#111" textLength="8.80" lengthAdjust="spacingAndGlyphs">10</text>
<text x="468.0" y="289.9" font-size="5.9" fill="#111" style="stroke-width:0.18px">3</text>
<line x1="471.074469698026" y1="279.6" x2="471.074469698026" y2="281.20000000000005" stroke="#111" stroke-width="0.8" />
<line x1="474.4124633449606" y1="279.6" x2="474.4124633449606" y2="281.20000000000005" stroke="#111" stroke-width="0.8" />
<line x1="476.78080752792016" y1="279.6" x2="476.78080752792016" y2="281.20000000000005" stroke="#111" stroke-width="0.8" />
<line x1="478.6178379942817" y1="279.6" x2="478.6178379942817" y2="281.20000000000005" stroke="#111" stroke-width="0.8" />
<line x1="480.11880117485475" y1="279.6" x2="480.11880117485475" y2="281.20000000000005" stroke="#111" stroke-width="0.8" />
<line x1="481.3878474618087" y1="279.6" x2="481.3878474618087" y2="281.20000000000005" stroke="#111" stroke-width="0.8" />
<line x1="482.4871453578143" y1="279.6" x2="482.4871453578143" y2="281.20000000000005" stroke="#111" stroke-width="0.8" />
<line x1="483.4567948217894" y1="279.6" x2="483.4567948217894" y2="281.20000000000005" stroke="#111" stroke-width="0.8" />
<line x1="484.3241758241758" y1="279.6" x2="484.3241758241758" y2="282.6" stroke="#111" stroke-width="1.2" />
<text x="486.9" y="293.5" font-size="8.6" text-anchor="end" fill="#111" textLength="8.80" lengthAdjust="spacingAndGlyphs">10</text>
<text x="486.9" y="289.9" font-size="5.9" fill="#111" style="stroke-width:0.18px">4</text>
<line x1="490.03051365407" y1="279.6" x2="490.03051365407" y2="281.20000000000005" stroke="#111" stroke-width="0.8" />
<line x1="493.36850730100457" y1="279.6" x2="493.36850730100457" y2="281.20000000000005" stroke="#111" stroke-width="0.8" />
<line x1="495.73685148396413" y1="279.6" x2="495.73685148396413" y2="281.20000000000005" stroke="#111" stroke-width="0.8" />
<line x1="497.57388195032564" y1="279.6" x2="497.57388195032564" y2="281.20000000000005" stroke="#111" stroke-width="0.8" />
<line x1="499.0748451308987" y1="279.6" x2="499.0748451308987" y2="281.20000000000005" stroke="#111" stroke-width="0.8" />
<line x1="500.34389141785266" y1="279.6" x2="500.34389141785266" y2="281.20000000000005" stroke="#111" stroke-width="0.8" />
<line x1="501.4431893138583" y1="279.6" x2="501.4431893138583" y2="281.20000000000005" stroke="#111" stroke-width="0.8" />
<line x1="502.4128387778334" y1="279.6" x2="502.4128387778334" y2="281.20000000000005" stroke="#111" stroke-width="0.8" />
<line x1="503.2802197802198" y1="279.6" x2="503.2802197802198" y2="282.6" stroke="#111" stroke-width="1.2" />
<text x="505.9" y="293.5" font-size="8.6" text-anchor="end" fill="#111" textLength="8.80" lengthAdjust="spacingAndGlyphs">10</text>
<text x="505.9" y="289.9" font-size="5.9" fill="#111" style="stroke-width:0.18px">5</text>
<text x="454.9" y="168.2" font-size="10.8" text-anchor="middle" fill="#111" textLength="32.68" lengthAdjust="spacingAndGlyphs">Day 18</text>
<text x="410.2" y="188.6" font-size="8.6" text-anchor="start" fill="#111" textLength="15.56" lengthAdjust="spacingAndGlyphs">7.26</text>
<text x="478.3" y="188.6" font-size="8.6" text-anchor="start" fill="#111" textLength="15.56" lengthAdjust="spacingAndGlyphs">7.67</text>
<text x="410.2" y="271.5" font-size="8.6" text-anchor="start" fill="#111" textLength="15.56" lengthAdjust="spacingAndGlyphs">59.4</text>
<text x="478.3" y="271.5" font-size="8.6" text-anchor="start" fill="#111" textLength="15.56" lengthAdjust="spacingAndGlyphs">25.7</text>
<line x1="247.3" y1="252" x2="247.3" y2="216" stroke="#111" stroke-width="1.3" />
<path d="M247.3 212.6 L244.6 219.5 L250.0 219.5 Z" fill="#111"/>
<text transform="translate(251.0,274.2) rotate(-90)" font-size="12.2" text-anchor="middle" fill="#111" textLength="25.2" lengthAdjust="spacingAndGlyphs">TβRIII</text>
<text x="269.4" y="307.7" font-size="11.2" text-anchor="start" fill="#111" textLength="13.80" lengthAdjust="spacingAndGlyphs">KIT</text>
<line x1="290.6" y1="304.5" x2="325" y2="304.5" stroke="#111" stroke-width="1.3" />
<path d="M329.2 304.5 L322.4 301.8 L322.4 307.2 Z" fill="#111"/>
<line x1="308.6" y1="347.1" x2="308.6" y2="653.8" stroke="#111" stroke-width="1.5" />
<line x1="308.2" y1="653.3" x2="497.6" y2="653.3" stroke="#111" stroke-width="1.5" />
<line x1="305.3" y1="653.3" x2="308.6" y2="653.3" stroke="#111" stroke-width="1.3" />
<text x="300.7" y="656.7" font-size="8.6" text-anchor="end" fill="#111" textLength="4.54" lengthAdjust="spacingAndGlyphs">1</text>
<line x1="305.3" y1="592.6999999999999" x2="308.6" y2="592.6999999999999" stroke="#111" stroke-width="1.3" />
<text x="298.6" y="596.7" font-size="8.6" text-anchor="end" fill="#111" textLength="9.09" lengthAdjust="spacingAndGlyphs">10</text>
<text x="298.6" y="593.3" font-size="5.8" text-anchor="start" font-weight="normal" fill="#111"  style="stroke-width:0.18px">1</text>
<line x1="305.3" y1="532.0999999999999" x2="308.6" y2="532.0999999999999" stroke="#111" stroke-width="1.3" />
<text x="298.6" y="536.1" font-size="8.6" text-anchor="end" fill="#111" textLength="9.09" lengthAdjust="spacingAndGlyphs">10</text>
<text x="298.6" y="532.7" font-size="5.8" text-anchor="start" font-weight="normal" fill="#111"  style="stroke-width:0.18px">2</text>
<line x1="305.3" y1="471.49999999999994" x2="308.6" y2="471.49999999999994" stroke="#111" stroke-width="1.3" />
<text x="298.6" y="475.5" font-size="8.6" text-anchor="end" fill="#111" textLength="9.09" lengthAdjust="spacingAndGlyphs">10</text>
<text x="298.6" y="472.1" font-size="5.8" text-anchor="start" font-weight="normal" fill="#111"  style="stroke-width:0.18px">3</text>
<line x1="305.3" y1="410.9" x2="308.6" y2="410.9" stroke="#111" stroke-width="1.3" />
<text x="298.6" y="414.9" font-size="8.6" text-anchor="end" fill="#111" textLength="9.09" lengthAdjust="spacingAndGlyphs">10</text>
<text x="298.6" y="411.5" font-size="5.8" text-anchor="start" font-weight="normal" fill="#111"  style="stroke-width:0.18px">4</text>
<line x1="305.3" y1="350.29999999999995" x2="308.6" y2="350.29999999999995" stroke="#111" stroke-width="1.3" />
<text x="298.6" y="354.3" font-size="8.6" text-anchor="end" fill="#111" textLength="9.09" lengthAdjust="spacingAndGlyphs">10</text>
<text x="298.6" y="350.9" font-size="5.8" text-anchor="start" font-weight="normal" fill="#111"  style="stroke-width:0.18px">5</text>
<line x1="308.6" y1="653.3" x2="308.6" y2="656.0" stroke="#111" stroke-width="1.2" />
<text x="308.6" y="667.6" font-size="9.6" text-anchor="middle" fill="#111" textLength="4.80" lengthAdjust="spacingAndGlyphs">0</text>
<line x1="354.7" y1="653.3" x2="354.7" y2="656.0" stroke="#111" stroke-width="1.2" />
<text x="354.7" y="667.6" font-size="9.6" text-anchor="middle" fill="#111" textLength="4.80" lengthAdjust="spacingAndGlyphs">3</text>
<line x1="400.9" y1="653.3" x2="400.9" y2="656.0" stroke="#111" stroke-width="1.2" />
<text x="400.9" y="667.6" font-size="9.6" text-anchor="middle" fill="#111" textLength="4.80" lengthAdjust="spacingAndGlyphs">6</text>
<line x1="447.8" y1="653.3" x2="447.8" y2="656.0" stroke="#111" stroke-width="1.2" />
<text x="447.8" y="667.6" font-size="9.6" text-anchor="middle" fill="#111" textLength="4.80" lengthAdjust="spacingAndGlyphs">9</text>
<line x1="494.6" y1="653.3" x2="494.6" y2="656.0" stroke="#111" stroke-width="1.2" />
<text x="494.6" y="667.6" font-size="9.6" text-anchor="middle" fill="#111" textLength="9.61" lengthAdjust="spacingAndGlyphs">12</text>
<text x="273.4" y="667.6" font-size="9.6" text-anchor="start" fill="#111" textLength="22.08" lengthAdjust="spacingAndGlyphs">Days:</text>
<text transform="translate(283.0,499.2) rotate(-90)" font-size="10.3" text-anchor="middle" fill="#111" textLength="144.4" lengthAdjust="spacingAndGlyphs">Total cell numbers from each BFU-E</text>
<polyline points="308.6,653.3 354.7,576.8 400.9,500.8 447.8,485.2 494.6,477.7" fill="none" stroke="#111" stroke-width="1.8" stroke-linejoin="round"/>
<line x1="354.7" y1="572" x2="354.7" y2="582" stroke="#2a2a2a" stroke-width="1.3" />
<line x1="350.09999999999997" y1="572" x2="359.3" y2="572" stroke="#2a2a2a" stroke-width="1.6" />
<line x1="350.09999999999997" y1="582" x2="359.3" y2="582" stroke="#2a2a2a" stroke-width="1.6" />
<line x1="400.9" y1="488" x2="400.9" y2="514.8" stroke="#2a2a2a" stroke-width="1.3" />
<line x1="396.29999999999995" y1="488" x2="405.5" y2="488" stroke="#2a2a2a" stroke-width="1.6" />
<line x1="396.29999999999995" y1="514.8" x2="405.5" y2="514.8" stroke="#2a2a2a" stroke-width="1.6" />
<line x1="447.8" y1="480.2" x2="447.8" y2="493.0" stroke="#2a2a2a" stroke-width="1.3" />
<line x1="443.2" y1="480.2" x2="452.40000000000003" y2="480.2" stroke="#2a2a2a" stroke-width="1.6" />
<line x1="443.2" y1="493.0" x2="452.40000000000003" y2="493.0" stroke="#2a2a2a" stroke-width="1.6" />
<line x1="494.6" y1="470.7" x2="494.6" y2="485.5" stroke="#2a2a2a" stroke-width="1.3" />
<line x1="490.0" y1="470.7" x2="499.20000000000005" y2="470.7" stroke="#2a2a2a" stroke-width="1.6" />
<line x1="490.0" y1="485.5" x2="499.20000000000005" y2="485.5" stroke="#2a2a2a" stroke-width="1.6" />
<circle cx="354.7" cy="576.8" r="4.3" fill="#c8c8c8" stroke="#b4b4b4" stroke-width="0.9"/>
<circle cx="400.9" cy="500.8" r="4.3" fill="#c8c8c8" stroke="#b4b4b4" stroke-width="0.9"/>
<circle cx="447.8" cy="485.2" r="4.3" fill="#c8c8c8" stroke="#b4b4b4" stroke-width="0.9"/>
<circle cx="494.6" cy="477.7" r="4.3" fill="#c8c8c8" stroke="#b4b4b4" stroke-width="0.9"/>
<polyline points="308.6,653.3 354.7,570.5 400.9,490.0 447.8,438.4 494.6,425.2" fill="none" stroke="#223d72" stroke-width="1.8" stroke-linejoin="round"/>
<line x1="354.7" y1="566" x2="354.7" y2="575" stroke="#1e3770" stroke-width="1.3" />
<line x1="350.09999999999997" y1="566" x2="359.3" y2="566" stroke="#1e3770" stroke-width="1.6" />
<line x1="350.09999999999997" y1="575" x2="359.3" y2="575" stroke="#1e3770" stroke-width="1.6" />
<line x1="400.9" y1="486" x2="400.9" y2="494" stroke="#1e3770" stroke-width="1.3" />
<line x1="396.29999999999995" y1="486" x2="405.5" y2="486" stroke="#1e3770" stroke-width="1.6" />
<line x1="396.29999999999995" y1="494" x2="405.5" y2="494" stroke="#1e3770" stroke-width="1.6" />
<line x1="447.8" y1="433.9" x2="447.8" y2="442.5" stroke="#1e3770" stroke-width="1.3" />
<line x1="443.2" y1="433.9" x2="452.40000000000003" y2="433.9" stroke="#1e3770" stroke-width="1.6" />
<line x1="443.2" y1="442.5" x2="452.40000000000003" y2="442.5" stroke="#1e3770" stroke-width="1.6" />
<circle cx="354.7" cy="570.5" r="4.3" fill="#3a5d9c" stroke="#1e3770" stroke-width="0.9"/>
<circle cx="400.9" cy="490.0" r="4.3" fill="#3a5d9c" stroke="#1e3770" stroke-width="0.9"/>
<circle cx="447.8" cy="438.4" r="4.3" fill="#3a5d9c" stroke="#1e3770" stroke-width="0.9"/>
<circle cx="494.6" cy="425.2" r="4.3" fill="#3a5d9c" stroke="#1e3770" stroke-width="0.9"/>
<polyline points="308.6,653.3 354.7,573.2 400.9,491.9 447.8,454.1 494.6,437.2" fill="none" stroke="#0a0a0a" stroke-width="1.8" stroke-linejoin="round"/>
<line x1="354.7" y1="566" x2="354.7" y2="581.8" stroke="#0a0a0a" stroke-width="1.3" />
<line x1="350.09999999999997" y1="566" x2="359.3" y2="566" stroke="#0a0a0a" stroke-width="1.6" />
<line x1="350.09999999999997" y1="581.8" x2="359.3" y2="581.8" stroke="#0a0a0a" stroke-width="1.6" />
<line x1="400.9" y1="486.5" x2="400.9" y2="499.8" stroke="#0a0a0a" stroke-width="1.3" />
<line x1="396.29999999999995" y1="486.5" x2="405.5" y2="486.5" stroke="#0a0a0a" stroke-width="1.6" />
<line x1="396.29999999999995" y1="499.8" x2="405.5" y2="499.8" stroke="#0a0a0a" stroke-width="1.6" />
<line x1="447.8" y1="452" x2="447.8" y2="459.2" stroke="#0a0a0a" stroke-width="1.3" />
<line x1="443.2" y1="452" x2="452.40000000000003" y2="452" stroke="#0a0a0a" stroke-width="1.6" />
<line x1="443.2" y1="459.2" x2="452.40000000000003" y2="459.2" stroke="#0a0a0a" stroke-width="1.6" />
<line x1="494.6" y1="432.0" x2="494.6" y2="443.0" stroke="#0a0a0a" stroke-width="1.3" />
<line x1="490.0" y1="432.0" x2="499.20000000000005" y2="432.0" stroke="#0a0a0a" stroke-width="1.6" />
<line x1="490.0" y1="443.0" x2="499.20000000000005" y2="443.0" stroke="#0a0a0a" stroke-width="1.6" />
<circle cx="354.7" cy="573.2" r="4.3" fill="#050505" stroke="#000" stroke-width="0.9"/>
<circle cx="400.9" cy="491.9" r="4.3" fill="#050505" stroke="#000" stroke-width="0.9"/>
<circle cx="447.8" cy="454.1" r="4.3" fill="#050505" stroke="#000" stroke-width="0.9"/>
<circle cx="494.6" cy="437.2" r="4.3" fill="#050505" stroke="#000" stroke-width="0.9"/>
<polyline points="308.6,653.3 354.7,559.8 400.9,475.1 447.8,423.2 494.6,409.6" fill="none" stroke="#a8123a" stroke-width="1.8" stroke-linejoin="round"/>
<line x1="354.7" y1="552.5" x2="354.7" y2="566" stroke="#8a0a28" stroke-width="1.3" />
<line x1="350.09999999999997" y1="552.5" x2="359.3" y2="552.5" stroke="#8a0a28" stroke-width="1.6" />
<line x1="350.09999999999997" y1="566" x2="359.3" y2="566" stroke="#8a0a28" stroke-width="1.6" />
<line x1="400.9" y1="466.7" x2="400.9" y2="488.5" stroke="#8a0a28" stroke-width="1.3" />
<line x1="396.29999999999995" y1="466.7" x2="405.5" y2="466.7" stroke="#8a0a28" stroke-width="1.6" />
<line x1="396.29999999999995" y1="488.5" x2="405.5" y2="488.5" stroke="#8a0a28" stroke-width="1.6" />
<line x1="447.8" y1="418.7" x2="447.8" y2="430.4" stroke="#8a0a28" stroke-width="1.3" />
<line x1="443.2" y1="418.7" x2="452.40000000000003" y2="418.7" stroke="#8a0a28" stroke-width="1.6" />
<line x1="443.2" y1="430.4" x2="452.40000000000003" y2="430.4" stroke="#8a0a28" stroke-width="1.6" />
<line x1="494.6" y1="404.8" x2="494.6" y2="415.4" stroke="#8a0a28" stroke-width="1.3" />
<line x1="490.0" y1="404.8" x2="499.20000000000005" y2="404.8" stroke="#8a0a28" stroke-width="1.6" />
<line x1="490.0" y1="415.4" x2="499.20000000000005" y2="415.4" stroke="#8a0a28" stroke-width="1.6" />
<circle cx="354.7" cy="559.8" r="4.3" fill="#c0103c" stroke="#8a0a28" stroke-width="0.9"/>
<circle cx="400.9" cy="475.1" r="4.3" fill="#c0103c" stroke="#8a0a28" stroke-width="0.9"/>
<circle cx="447.8" cy="423.2" r="4.3" fill="#c0103c" stroke="#8a0a28" stroke-width="0.9"/>
<circle cx="494.6" cy="409.6" r="4.3" fill="#c0103c" stroke="#8a0a28" stroke-width="0.9"/>
<circle cx="308.6" cy="653.3" r="4.6" fill="#000"/>
<text x="494.6" y="403.0" font-size="7" text-anchor="middle" font-weight="normal" fill="#111"  style="stroke-width:0.18px">*</text>
<line x1="315.0" y1="353.9" x2="332.0" y2="353.9" stroke="#0a0a0a" stroke-width="1.6" />
<circle cx="323.5" cy="353.9" r="4.6" fill="#050505" stroke="#000" stroke-width="0.9"/>
<text x="335.6" y="356.59999999999997" font-size="7.5" fill="#1a1a1a" textLength="20.2" lengthAdjust="spacingAndGlyphs" style="stroke-width:0.05px">TβRIII</text>
<text x="356.2" y="353.59999999999997" font-size="5.2" fill="#333" textLength="16.6" lengthAdjust="spacingAndGlyphs" style="stroke-width:0.02px">10%lo</text>
<line x1="315.0" y1="370.09999999999997" x2="332.0" y2="370.09999999999997" stroke="#111" stroke-width="1.6" />
<circle cx="323.5" cy="370.09999999999997" r="4.6" fill="#c8c8c8" stroke="#b4b4b4" stroke-width="0.9"/>
<text x="335.6" y="372.79999999999995" font-size="7.5" fill="#1a1a1a" textLength="20.2" lengthAdjust="spacingAndGlyphs" style="stroke-width:0.05px">TβRIII</text>
<text x="356.2" y="369.79999999999995" font-size="5.2" fill="#333" textLength="16.6" lengthAdjust="spacingAndGlyphs" style="stroke-width:0.02px">10%hi</text>
<line x1="315.0" y1="386.29999999999995" x2="332.0" y2="386.29999999999995" stroke="#a8123a" stroke-width="1.6" />
<circle cx="323.5" cy="386.29999999999995" r="4.6" fill="#c0103c" stroke="#8a0a28" stroke-width="0.9"/>
<text x="335.6" y="388.99999999999994" font-size="7.5" fill="#1a1a1a" textLength="20.2" lengthAdjust="spacingAndGlyphs" style="stroke-width:0.05px">TβRIII</text>
<text x="356.2" y="385.99999999999994" font-size="5.2" fill="#333" textLength="16.6" lengthAdjust="spacingAndGlyphs" style="stroke-width:0.02px">10%lo</text>
<text x="376.0" y="388.99999999999994" font-size="7.9" fill="#1a1a1a" style="stroke-width:0.08px">+ Galunisertib</text>
<line x1="315.0" y1="402.5" x2="332.0" y2="402.5" stroke="#223d72" stroke-width="1.6" />
<circle cx="323.5" cy="402.5" r="4.6" fill="#3a5d9c" stroke="#1e3770" stroke-width="0.9"/>
<text x="335.6" y="405.2" font-size="7.5" fill="#1a1a1a" textLength="20.2" lengthAdjust="spacingAndGlyphs" style="stroke-width:0.05px">TβRIII</text>
<text x="356.2" y="402.2" font-size="5.2" fill="#333" textLength="16.6" lengthAdjust="spacingAndGlyphs" style="stroke-width:0.02px">10%lo</text>
<text x="376.0" y="405.2" font-size="7.9" fill="#1a1a1a" style="stroke-width:0.08px">+ DEX</text>
</svg></body></html>
